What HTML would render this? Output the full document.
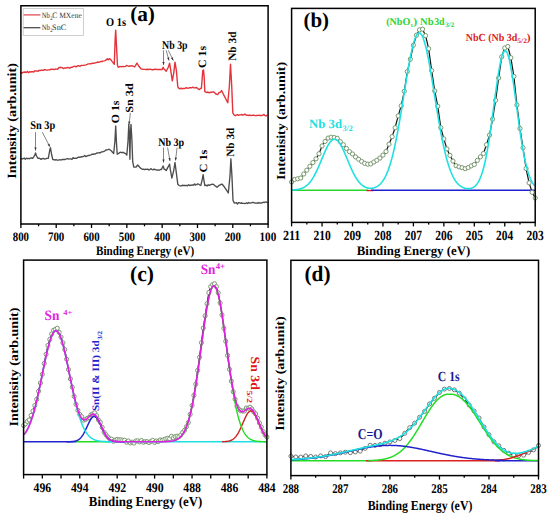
<!DOCTYPE html>
<html><head><meta charset="utf-8"><style>
html,body{margin:0;padding:0;background:#fff;}
body{width:550px;height:517px;overflow:hidden;}
svg{display:block;}
text{font-family:'Liberation Serif',serif;text-rendering:geometricPrecision;}
</style></head><body>
<svg width="550" height="517" viewBox="0 0 550 517">
<rect width="550" height="517" fill="#fff"/>
<polyline points="20.80,72.70 21.88,73.18 22.96,72.30 24.05,72.24 25.13,71.96 26.21,72.55 27.29,71.35 28.37,72.67 29.45,71.71 30.54,71.99 31.62,71.70 32.70,71.70 33.77,72.05 34.83,70.66 35.90,71.11 36.97,70.93 38.03,71.31 39.10,70.37 40.17,70.53 41.23,70.13 42.30,70.29 43.37,70.32 44.43,69.57 45.50,69.80 46.50,70.15 47.50,70.02 48.50,69.83 49.50,69.92 50.50,69.31 51.50,69.46 52.50,69.12 53.50,69.31 54.50,69.54 55.50,69.06 56.50,69.11 57.50,69.20 58.80,67.70 60.70,67.30 62.00,67.66 63.30,68.50 64.39,68.03 65.47,67.92 66.56,67.98 67.64,67.42 68.73,67.72 69.81,68.05 70.90,67.30 71.92,67.37 72.94,66.85 73.96,66.42 74.98,66.28 76.00,66.94 77.02,66.18 78.04,65.75 79.06,65.85 80.08,66.33 81.10,65.40 82.40,65.34 83.70,65.42 85.00,65.10 86.09,64.93 87.17,64.43 88.26,63.89 89.34,63.89 90.43,63.67 91.51,63.68 92.60,63.20 93.65,63.28 94.69,63.11 95.74,62.67 96.78,62.67 97.83,61.89 98.87,62.38 99.92,61.92 100.96,61.42 102.01,61.49 103.05,61.08 104.10,60.90 105.17,60.56 106.23,59.97 107.30,58.70 108.37,59.70 109.43,58.68 110.50,59.40 112.40,61.90 114.30,64.20 115.20,37.70 115.70,30.10 116.40,44.10 117.50,65.70 118.30,67.30 119.53,66.57 120.75,66.67 121.97,66.68 123.20,66.40 124.31,66.62 125.42,66.34 126.54,65.43 127.65,65.94 128.76,66.25 129.88,65.96 130.99,66.05 132.10,65.70 133.35,66.27 134.60,67.00 135.75,65.10 136.90,63.20 138.50,65.70 139.75,67.23 141.00,68.90 142.02,69.09 143.04,69.28 144.06,69.33 145.08,69.42 146.10,69.50 147.40,69.20 148.70,69.50 150.00,69.30 151.01,69.37 152.03,69.75 153.04,69.79 154.05,69.46 155.06,69.29 156.07,69.23 157.09,69.62 158.10,69.50 159.12,69.53 160.15,69.38 161.17,69.52 162.20,69.50 163.10,67.20 164.20,69.30 165.20,70.08 166.20,71.30 167.25,69.25 168.30,67.20 169.60,63.20 170.60,69.30 172.30,80.80 173.70,73.30 175.00,62.20 176.40,70.60 177.80,86.90 179.10,88.50 180.12,88.69 181.13,88.24 182.15,88.78 183.17,88.44 184.18,88.46 185.20,88.20 186.28,87.75 187.36,88.12 188.44,88.25 189.52,87.59 190.60,87.76 191.68,87.79 192.76,87.23 193.84,87.75 194.92,87.87 196.00,87.50 197.13,87.90 198.27,89.02 199.40,89.60 200.40,88.44 201.40,88.20 202.80,70.60 203.50,69.90 204.20,77.40 204.80,91.60 205.85,92.09 206.90,92.60 207.90,91.96 208.90,92.84 209.90,92.52 210.90,92.30 211.90,92.19 212.90,91.83 213.90,92.00 215.17,93.28 216.43,94.36 217.70,94.50 219.00,92.55 220.30,92.33 221.60,90.60 223.05,93.50 224.50,96.40 225.60,98.53 226.70,100.67 227.80,102.80 229.40,85.80 230.50,64.10 231.70,85.80 232.80,112.90 234.20,115.20 235.28,115.73 236.36,115.23 237.43,114.65 238.51,115.32 239.59,114.91 240.67,114.72 241.74,114.46 242.82,115.04 243.90,114.80 244.80,113.90 245.80,114.93 246.80,115.40 247.81,115.17 248.82,115.56 249.83,114.97 250.84,115.64 251.85,115.37 252.86,115.27 253.87,115.29 254.88,115.62 255.89,115.57 256.90,115.49 257.91,115.34 258.92,115.31 259.93,115.49 260.94,115.34 261.95,115.49 262.96,115.13 263.97,114.38 264.98,115.58 265.99,115.98 267.00,115.20" fill="none" stroke="#e3343b" stroke-width="1.4" stroke-linejoin="round" stroke-linecap="round" />
<polyline points="20.80,158.90 21.93,158.72 23.07,158.81 24.20,158.05 25.33,159.34 26.47,158.11 27.60,158.70 28.62,158.33 29.64,158.72 30.66,158.02 31.68,158.01 32.70,158.30 34.60,155.70 35.50,152.90 36.50,155.70 37.80,158.30 38.90,158.07 40.00,158.66 41.10,159.36 42.20,158.66 43.30,158.34 44.40,159.00 45.50,158.90 46.90,158.39 48.30,158.30 49.90,149.40 50.50,147.80 51.60,154.50 52.80,159.50 53.88,159.63 54.96,160.19 56.04,159.66 57.12,160.06 58.20,160.20 59.26,159.78 60.32,159.93 61.38,159.96 62.43,159.42 63.49,159.54 64.55,159.47 65.61,159.22 66.67,158.92 67.73,158.73 68.78,159.06 69.84,158.91 70.90,158.90 71.96,159.47 73.02,157.63 74.08,158.31 75.13,158.20 76.19,158.33 77.25,157.83 78.31,157.15 79.37,157.23 80.42,157.21 81.48,156.71 82.54,156.88 83.60,156.40 84.67,155.53 85.73,156.57 86.80,156.26 87.87,155.42 88.93,155.53 90.00,155.10 91.08,154.82 92.15,154.21 93.22,154.23 94.30,153.90 95.33,153.98 96.37,153.23 97.40,152.97 98.43,152.81 99.47,152.72 100.50,152.75 101.53,151.81 102.57,151.94 103.60,151.50 104.68,151.12 105.76,149.93 106.84,149.97 107.92,149.61 109.00,149.20 110.15,149.99 111.30,150.80 112.50,152.26 113.70,153.50 114.90,141.50 115.70,126.00 116.40,141.50 117.20,154.20 119.10,153.10 120.13,152.12 121.17,152.58 122.20,152.30 123.35,152.46 124.50,153.10 125.65,153.60 126.80,155.10 128.00,141.50 128.80,124.40 129.40,133.70 129.90,159.30 130.40,133.70 131.00,124.40 131.90,139.90 132.70,161.60 133.80,167.00 134.95,167.18 136.10,167.00 137.70,165.00 139.50,167.00 140.90,168.41 142.30,169.30 143.40,169.10 144.50,169.65 145.60,169.25 146.70,169.44 147.80,169.06 148.90,170.03 150.00,169.50 151.01,168.62 152.03,169.57 153.04,169.89 154.05,168.99 155.06,169.68 156.07,169.77 157.09,170.14 158.10,169.90 159.23,170.20 160.37,169.49 161.50,169.50 163.10,165.90 164.20,169.30 165.20,169.47 166.20,170.60 167.60,167.90 169.00,165.20 169.60,164.10 170.30,169.30 171.90,178.10 173.70,170.60 175.00,162.50 176.40,173.30 177.80,184.20 179.10,185.50 180.15,185.95 181.19,185.87 182.24,185.26 183.28,185.51 184.33,185.50 185.37,185.53 186.42,185.38 187.46,185.77 188.51,184.65 189.55,185.59 190.60,185.20 191.61,185.21 192.62,184.87 193.64,185.24 194.65,183.88 195.66,184.98 196.67,184.59 197.69,183.93 198.70,184.20 199.75,185.00 200.80,185.50 202.10,180.10 203.10,174.70 203.90,180.10 204.80,185.50 205.93,185.16 207.07,185.94 208.20,184.80 209.28,185.36 210.36,184.79 211.44,184.31 212.52,184.28 213.60,184.40 215.00,185.80 216.05,186.44 217.10,187.30 218.13,186.27 219.17,185.32 220.20,184.80 221.20,184.29 222.20,184.20 223.23,185.47 224.27,186.75 225.30,188.30 226.30,189.87 227.30,191.43 228.30,193.00 229.90,177.10 230.90,158.80 232.00,177.10 233.00,200.50 234.40,203.10 235.42,202.86 236.44,202.77 237.46,203.99 238.47,202.58 239.49,202.74 240.51,203.25 241.53,202.99 242.55,203.25 243.57,203.38 244.59,203.54 245.61,203.36 246.62,202.75 247.64,203.49 248.66,202.48 249.68,203.06 250.70,203.10 251.70,202.73 252.70,202.33 253.70,202.50 254.85,203.01 256.00,203.10 257.00,202.98 258.00,203.35 259.00,202.42 260.00,203.18 261.00,203.00 262.00,202.82 263.00,202.22 264.00,202.58 265.00,202.07 266.00,201.83 267.00,202.50" fill="none" stroke="#4d4d4d" stroke-width="1.35" stroke-linejoin="round" stroke-linecap="round" />
<rect x="23.2" y="8.6" width="60.2" height="26.9" fill="#fff" stroke="#c4c4c4" stroke-width="0.8"/>
<line x1="23.60" y1="14.90" x2="40.40" y2="14.90" stroke="#e05058" stroke-width="1.3" />
<line x1="23.60" y1="27.70" x2="40.40" y2="27.70" stroke="#505050" stroke-width="1.3" />
<text transform="translate(41.80,17.50) scale(0.8059,1)" font-size="8.20" font-weight="normal" fill="#333">Nb</text>
<text transform="translate(49.96,19.90) scale(1.0096,1)" font-size="5.20" font-weight="normal" fill="#333">2</text>
<text transform="translate(52.30,17.50) scale(0.9178,1)" font-size="8.20" font-weight="normal" fill="#333">C MXene</text>
<text transform="translate(41.80,29.70) scale(0.8059,1)" font-size="8.20" font-weight="normal" fill="#333">Nb</text>
<text transform="translate(49.96,31.90) scale(1.0096,1)" font-size="5.20" font-weight="normal" fill="#333">2</text>
<text transform="translate(52.06,29.70) scale(1.0061,1)" font-size="8.20" font-weight="normal" fill="#333">SnC</text>
<text transform="translate(130.14,21.10) scale(0.9952,1)" font-size="21.40" font-weight="bold" fill="#000">(a)</text>
<text transform="translate(105.98,25.50) scale(0.8819,1)" font-size="11.80" font-weight="bold" fill="#000">O 1s</text>
<text transform="translate(162.10,48.50) scale(0.8357,1)" font-size="11.80" font-weight="bold" fill="#000">Nb 3p</text>
<text transform="translate(206.00,67.99) rotate(-90) scale(1.0461,1)" font-size="11.30" font-weight="bold" fill="#000">C 1s</text>
<text transform="translate(236.00,60.83) rotate(-90) scale(1.0045,1)" font-size="11.30" font-weight="bold" fill="#000">Nb 3d</text>
<text transform="translate(30.33,129.20) scale(0.8730,1)" font-size="11.80" font-weight="bold" fill="#000">Sn 3p</text>
<text transform="translate(118.90,123.19) rotate(-90) scale(1.0692,1)" font-size="11.00" font-weight="bold" fill="#000">O 1s</text>
<text transform="translate(133.40,112.77) rotate(-90) scale(1.1064,1)" font-size="11.00" font-weight="bold" fill="#000">Sn 3d</text>
<text transform="translate(158.20,145.50) scale(0.8747,1)" font-size="11.50" font-weight="bold" fill="#000">Nb 3p</text>
<text transform="translate(206.60,172.62) rotate(-90) scale(1.1255,1)" font-size="11.00" font-weight="bold" fill="#000">C 1s</text>
<text transform="translate(233.80,156.83) rotate(-90) scale(1.0064,1)" font-size="11.20" font-weight="bold" fill="#000">Nb 3d</text>
<line x1="163.50" y1="50.30" x2="163.50" y2="65.00" stroke="#333" stroke-width="0.6" />
<polygon points="163.50,65.00 162.40,62.00 164.60,62.00" fill="#333"/>
<line x1="166.20" y1="50.30" x2="169.00" y2="60.50" stroke="#333" stroke-width="0.6" />
<polygon points="169.00,60.50 167.15,57.90 169.27,57.32" fill="#333"/>
<line x1="168.30" y1="50.30" x2="173.30" y2="60.50" stroke="#333" stroke-width="0.6" />
<polygon points="173.30,60.50 170.99,58.29 172.97,57.32" fill="#333"/>
<line x1="163.50" y1="147.60" x2="163.50" y2="162.50" stroke="#333" stroke-width="0.6" />
<polygon points="163.50,162.50 162.40,159.50 164.60,159.50" fill="#333"/>
<line x1="167.60" y1="147.60" x2="170.00" y2="161.10" stroke="#333" stroke-width="0.6" />
<polygon points="170.00,161.10 168.39,158.34 170.56,157.95" fill="#333"/>
<line x1="177.10" y1="147.60" x2="175.50" y2="160.50" stroke="#333" stroke-width="0.6" />
<polygon points="175.50,160.50 174.78,157.39 176.96,157.66" fill="#333"/>
<line x1="35.50" y1="132.20" x2="35.50" y2="150.60" stroke="#333" stroke-width="0.6" />
<polygon points="35.50,150.60 34.40,147.60 36.60,147.60" fill="#333"/>
<line x1="42.30" y1="132.20" x2="49.90" y2="146.80" stroke="#333" stroke-width="0.6" />
<polygon points="49.90,146.80 47.54,144.65 49.49,143.63" fill="#333"/>
<line x1="130.40" y1="112.90" x2="129.00" y2="124.50" stroke="#333" stroke-width="0.6" />
<polygon points="129.00,124.50 128.27,121.39 130.45,121.65" fill="#333"/>
<rect x="20.90" y="5.75" width="247.20" height="218.25" fill="none" stroke="#000" stroke-width="1.5"/>
<line x1="20.90" y1="224.00" x2="20.90" y2="228.00" stroke="#000" stroke-width="1.3" />
<text transform="translate(12.82,241.30) scale(0.8378,1)" font-size="12.90" font-weight="bold" fill="#000">800</text>
<line x1="38.56" y1="224.00" x2="38.56" y2="226.30" stroke="#000" stroke-width="1.3" />
<line x1="56.21" y1="224.00" x2="56.21" y2="228.00" stroke="#000" stroke-width="1.3" />
<text transform="translate(47.91,241.30) scale(0.8497,1)" font-size="12.90" font-weight="bold" fill="#000">700</text>
<line x1="73.87" y1="224.00" x2="73.87" y2="226.30" stroke="#000" stroke-width="1.3" />
<line x1="91.53" y1="224.00" x2="91.53" y2="228.00" stroke="#000" stroke-width="1.3" />
<text transform="translate(83.45,241.30) scale(0.8378,1)" font-size="12.90" font-weight="bold" fill="#000">600</text>
<line x1="109.19" y1="224.00" x2="109.19" y2="226.30" stroke="#000" stroke-width="1.3" />
<line x1="126.84" y1="224.00" x2="126.84" y2="228.00" stroke="#000" stroke-width="1.3" />
<text transform="translate(118.71,241.30) scale(0.8407,1)" font-size="12.90" font-weight="bold" fill="#000">500</text>
<line x1="144.50" y1="224.00" x2="144.50" y2="226.30" stroke="#000" stroke-width="1.3" />
<line x1="162.16" y1="224.00" x2="162.16" y2="228.00" stroke="#000" stroke-width="1.3" />
<text transform="translate(154.30,241.30) scale(0.8262,1)" font-size="12.90" font-weight="bold" fill="#000">400</text>
<line x1="179.81" y1="224.00" x2="179.81" y2="226.30" stroke="#000" stroke-width="1.3" />
<line x1="197.47" y1="224.00" x2="197.47" y2="228.00" stroke="#000" stroke-width="1.3" />
<text transform="translate(189.39,241.30) scale(0.8378,1)" font-size="12.90" font-weight="bold" fill="#000">300</text>
<line x1="215.13" y1="224.00" x2="215.13" y2="226.30" stroke="#000" stroke-width="1.3" />
<line x1="232.79" y1="224.00" x2="232.79" y2="228.00" stroke="#000" stroke-width="1.3" />
<text transform="translate(224.65,241.30) scale(0.8407,1)" font-size="12.90" font-weight="bold" fill="#000">200</text>
<line x1="250.44" y1="224.00" x2="250.44" y2="226.30" stroke="#000" stroke-width="1.3" />
<line x1="268.10" y1="224.00" x2="268.10" y2="228.00" stroke="#000" stroke-width="1.3" />
<text transform="translate(259.51,241.30) scale(0.8651,1)" font-size="12.90" font-weight="bold" fill="#000">100</text>
<text transform="translate(96.03,254.70) scale(0.8622,1)" font-size="12.90" font-weight="bold" fill="#000">Binding Energy (eV)</text>
<text transform="translate(15.50,178.70) rotate(-90) scale(1.1243,1)" font-size="12.60" font-weight="bold" fill="#000">Intensity (arb.unit)</text>
<line x1="291.60" y1="190.25" x2="368.00" y2="190.25" stroke="#2bd62b" stroke-width="1.5" />
<line x1="366.50" y1="190.55" x2="373.50" y2="190.55" stroke="#e02020" stroke-width="1.4" />
<line x1="371.00" y1="190.25" x2="535.20" y2="190.25" stroke="#2020d0" stroke-width="1.5" />
<polyline points="291.60,182.00 294.65,179.44 297.69,178.75 300.74,178.02 303.78,173.98 306.83,170.16 309.87,166.27 312.92,162.58 315.96,158.84 319.00,153.73 322.05,145.91 325.10,141.43 328.14,138.07 331.19,137.22 334.23,137.54 337.28,138.28 340.32,141.63 343.37,144.72 346.41,148.50 349.46,151.68 352.50,154.00 355.55,156.92 358.59,159.22 361.63,161.46 364.68,163.36 367.73,164.18 370.77,163.94 373.82,162.04 376.86,160.27 379.91,158.05 382.95,155.11 386.00,151.56 389.04,144.19 392.09,136.67 395.13,127.72 398.18,115.88 401.22,105.72 404.27,91.26 407.31,71.56 410.36,59.23 413.40,45.20 416.45,35.21 419.49,29.82 422.54,29.16 425.58,35.65 428.63,48.67 431.67,70.54 434.72,90.90 437.76,106.23 440.81,127.70 443.85,138.88 446.90,148.89 449.94,155.38 452.99,161.06 456.03,165.74 459.08,166.89 462.12,167.68 465.17,168.68 468.21,167.55 471.26,165.89 474.30,164.49 477.35,160.37 480.39,156.85 483.44,153.48 486.48,144.75 489.53,135.10 492.57,119.16 495.62,100.31 498.66,77.96 501.71,56.84 504.75,47.99 507.80,46.50 510.84,57.69 513.88,76.45 516.93,105.02 519.98,128.52 523.02,147.72 526.07,168.57 529.11,182.82 532.15,192.31 535.20,198.00" fill="none" stroke="#111" stroke-width="1.2" stroke-linejoin="round" stroke-linecap="round" />
<g fill="#fff" stroke="#7a9870" stroke-width="1.0"><circle cx="291.60" cy="182.00" r="2.1"/><circle cx="294.65" cy="179.44" r="2.1"/><circle cx="297.69" cy="178.75" r="2.1"/><circle cx="300.74" cy="178.02" r="2.1"/><circle cx="303.78" cy="173.98" r="2.1"/><circle cx="306.83" cy="170.16" r="2.1"/><circle cx="309.87" cy="166.27" r="2.1"/><circle cx="312.92" cy="162.58" r="2.1"/><circle cx="315.96" cy="158.84" r="2.1"/><circle cx="319.00" cy="153.73" r="2.1"/><circle cx="322.05" cy="145.91" r="2.1"/><circle cx="325.10" cy="141.43" r="2.1"/><circle cx="328.14" cy="138.07" r="2.1"/><circle cx="331.19" cy="137.22" r="2.1"/><circle cx="334.23" cy="137.54" r="2.1"/><circle cx="337.28" cy="138.28" r="2.1"/><circle cx="340.32" cy="141.63" r="2.1"/><circle cx="343.37" cy="144.72" r="2.1"/><circle cx="346.41" cy="148.50" r="2.1"/><circle cx="349.46" cy="151.68" r="2.1"/><circle cx="352.50" cy="154.00" r="2.1"/><circle cx="355.55" cy="156.92" r="2.1"/><circle cx="358.59" cy="159.22" r="2.1"/><circle cx="361.63" cy="161.46" r="2.1"/><circle cx="364.68" cy="163.36" r="2.1"/><circle cx="367.73" cy="164.18" r="2.1"/><circle cx="370.77" cy="163.94" r="2.1"/><circle cx="373.82" cy="162.04" r="2.1"/><circle cx="376.86" cy="160.27" r="2.1"/><circle cx="379.91" cy="158.05" r="2.1"/><circle cx="382.95" cy="155.11" r="2.1"/><circle cx="386.00" cy="151.56" r="2.1"/><circle cx="389.04" cy="144.19" r="2.1"/><circle cx="392.09" cy="136.67" r="2.1"/><circle cx="395.13" cy="127.72" r="2.1"/><circle cx="398.18" cy="115.88" r="2.1"/><circle cx="401.22" cy="105.72" r="2.1"/><circle cx="404.27" cy="91.26" r="2.1"/><circle cx="407.31" cy="71.56" r="2.1"/><circle cx="410.36" cy="59.23" r="2.1"/><circle cx="413.40" cy="45.20" r="2.1"/><circle cx="416.45" cy="35.21" r="2.1"/><circle cx="419.49" cy="29.82" r="2.1"/><circle cx="422.54" cy="29.16" r="2.1"/><circle cx="425.58" cy="35.65" r="2.1"/><circle cx="428.63" cy="48.67" r="2.1"/><circle cx="431.67" cy="70.54" r="2.1"/><circle cx="434.72" cy="90.90" r="2.1"/><circle cx="437.76" cy="106.23" r="2.1"/><circle cx="440.81" cy="127.70" r="2.1"/><circle cx="443.85" cy="138.88" r="2.1"/><circle cx="446.90" cy="148.89" r="2.1"/><circle cx="449.94" cy="155.38" r="2.1"/><circle cx="452.99" cy="161.06" r="2.1"/><circle cx="456.03" cy="165.74" r="2.1"/><circle cx="459.08" cy="166.89" r="2.1"/><circle cx="462.12" cy="167.68" r="2.1"/><circle cx="465.17" cy="168.68" r="2.1"/><circle cx="468.21" cy="167.55" r="2.1"/><circle cx="471.26" cy="165.89" r="2.1"/><circle cx="474.30" cy="164.49" r="2.1"/><circle cx="477.35" cy="160.37" r="2.1"/><circle cx="480.39" cy="156.85" r="2.1"/><circle cx="483.44" cy="153.48" r="2.1"/><circle cx="486.48" cy="144.75" r="2.1"/><circle cx="489.53" cy="135.10" r="2.1"/><circle cx="492.57" cy="119.16" r="2.1"/><circle cx="495.62" cy="100.31" r="2.1"/><circle cx="498.66" cy="77.96" r="2.1"/><circle cx="501.71" cy="56.84" r="2.1"/><circle cx="504.75" cy="47.99" r="2.1"/><circle cx="507.80" cy="46.50" r="2.1"/><circle cx="510.84" cy="57.69" r="2.1"/><circle cx="513.88" cy="76.45" r="2.1"/><circle cx="516.93" cy="105.02" r="2.1"/><circle cx="519.98" cy="128.52" r="2.1"/><circle cx="523.02" cy="147.72" r="2.1"/><circle cx="526.07" cy="168.57" r="2.1"/><circle cx="529.11" cy="182.82" r="2.1"/><circle cx="532.15" cy="192.31" r="2.1"/><circle cx="535.20" cy="198.00" r="2.1"/></g>
<path d="M292.10,190.04 L292.51,190.02 L292.91,189.99 L293.32,189.96 L293.72,189.93 L294.13,189.90 L294.53,189.86 L294.94,189.82 L295.34,189.78 L295.75,189.73 L296.15,189.68 L296.56,189.62 L296.96,189.56 L297.37,189.49 L297.77,189.42 L298.18,189.34 L298.58,189.26 L298.99,189.16 L299.39,189.06 L299.80,188.96 L300.20,188.84 L300.61,188.72 L301.01,188.59 L301.42,188.44 L301.82,188.29 L302.23,188.13 L302.63,187.95 L303.04,187.76 L303.44,187.56 L303.85,187.35 L304.25,187.13 L304.66,186.88 L305.06,186.63 L305.47,186.36 L305.87,186.07 L306.28,185.77 L306.68,185.44 L307.09,185.10 L307.49,184.75 L307.90,184.37 L308.30,183.97 L308.71,183.56 L309.11,183.12 L309.52,182.66 L309.92,182.18 L310.33,181.68 L310.73,181.16 L311.14,180.61 L311.54,180.04 L311.95,179.45 L312.35,178.84 L312.76,178.20 L313.16,177.54 L313.57,176.86 L313.97,176.16 L314.38,175.43 L314.78,174.68 L315.19,173.91 L315.59,173.12 L316.00,172.31 L316.40,171.48 L316.81,170.63 L317.21,169.77 L317.62,168.88 L318.02,167.98 L318.43,167.07 L318.83,166.14 L319.24,165.20 L319.64,164.25 L320.05,163.29 L320.45,162.33 L320.86,161.35 L321.26,160.38 L321.67,159.40 L322.07,158.42 L322.48,157.44 L322.88,156.47 L323.29,155.51 L323.69,154.55 L324.10,153.60 L324.50,152.66 L324.91,151.74 L325.31,150.84 L325.72,149.95 L326.12,149.09 L326.53,148.25 L326.93,147.43 L327.34,146.64 L327.74,145.89 L328.15,145.16 L328.55,144.47 L328.96,143.82 L329.36,143.20 L329.77,142.62 L330.17,142.09 L330.58,141.59 L330.98,141.14 L331.39,140.74 L331.79,140.38 L332.20,140.07 L332.60,139.81 L333.01,139.60 L333.41,139.43 L333.82,139.32 L334.22,139.26 L334.63,139.25 L335.03,139.29 L335.44,139.39 L335.84,139.53 L336.25,139.72 L336.65,139.96 L337.06,140.26 L337.46,140.60 L337.87,140.98 L338.27,141.42 L338.68,141.89 L339.08,142.41 L339.49,142.98 L339.89,143.58 L340.30,144.22 L340.70,144.90 L341.11,145.61 L341.51,146.35 L341.92,147.13 L342.32,147.93 L342.73,148.76 L343.13,149.62 L343.54,150.50 L343.94,151.40 L344.35,152.31 L344.75,153.24 L345.16,154.18 L345.56,155.14 L345.97,156.10 L346.37,157.07 L346.78,158.05 L347.18,159.03 L347.59,160.01 L347.99,160.98 L348.40,161.96 L348.80,162.92 L349.21,163.89 L349.61,164.84 L350.02,165.78 L350.42,166.71 L350.83,167.63 L351.23,168.54 L351.64,169.43 L352.04,170.30 L352.45,171.15 L352.85,171.99 L353.26,172.80 L353.66,173.60 L354.07,174.38 L354.47,175.13 L354.88,175.86 L355.28,176.57 L355.69,177.26 L356.09,177.92 L356.50,178.57 L356.90,179.18 L357.31,179.78 L357.71,180.35 L358.12,180.90 L358.52,181.42 L358.93,181.93 L359.33,182.41 L359.74,182.86 L360.14,183.30 L360.55,183.72 L360.95,184.11 L361.36,184.48 L361.76,184.83 L362.17,185.17 L362.57,185.48 L362.98,185.77 L363.38,186.05 L363.79,186.30 L364.19,186.54 L364.60,186.77 L365.00,186.97 L365.41,187.16 L365.81,187.33 L366.22,187.49 L366.62,187.63 L367.03,187.76 L367.43,187.87 L367.84,187.97 L368.24,188.06 L368.65,188.13 L369.05,188.18 L369.46,188.23 L369.86,188.26 L370.27,188.28 L370.67,188.28 L371.08,188.27 L371.48,188.25 L371.89,188.21 L372.29,188.17 L372.70,188.10 L373.10,188.03 L373.51,187.94 L373.91,187.84 L374.32,187.72 L374.72,187.58 L375.13,187.44 L375.53,187.27 L375.94,187.09 L376.34,186.90 L376.75,186.68 L377.15,186.45 L377.56,186.20 L377.96,185.93 L378.37,185.64 L378.77,185.33 L379.18,185.00 L379.58,184.64 L379.99,184.26 L380.39,183.86 L380.80,183.44 L381.20,182.98 L381.61,182.50 L382.01,182.00 L382.42,181.46 L382.82,180.89 L383.23,180.30 L383.63,179.67 L384.04,179.01 L384.44,178.31 L384.85,177.58 L385.25,176.81 L385.66,176.01 L386.06,175.17 L386.47,174.28 L386.87,173.36 L387.28,172.40 L387.68,171.39 L388.09,170.35 L388.49,169.25 L388.90,168.12 L389.30,166.94 L389.71,165.71 L390.11,164.43 L390.52,163.11 L390.92,161.74 L391.33,160.32 L391.73,158.85 L392.14,157.34 L392.54,155.77 L392.95,154.16 L393.35,152.49 L393.76,150.78 L394.16,149.02 L394.57,147.21 L394.97,145.35 L395.38,143.45 L395.78,141.49 L396.19,139.50 L396.59,137.45 L397.00,135.37 L397.40,133.24 L397.81,131.07 L398.21,128.86 L398.62,126.61 L399.02,124.32 L399.43,122.01 L399.83,119.66 L400.24,117.28 L400.64,114.87 L401.05,112.44 L401.45,109.98 L401.86,107.51 L402.26,105.02 L402.67,102.51 L403.07,100.00 L403.48,97.48 L403.88,94.95 L404.29,92.43 L404.69,89.91 L405.10,87.39 L405.50,84.89 L405.91,82.40 L406.31,79.93 L406.72,77.48 L407.12,75.06 L407.53,72.67 L407.93,70.31 L408.34,67.99 L408.74,65.72 L409.15,63.49 L409.55,61.31 L409.96,59.19 L410.36,57.12 L410.77,55.12 L411.17,53.18 L411.58,51.31 L411.98,49.51 L412.39,47.80 L412.79,46.16 L413.20,44.60 L413.60,43.13 L414.01,41.75 L414.41,40.47 L414.82,39.27 L415.22,38.18 L415.63,37.18 L416.03,36.28 L416.44,35.49 L416.84,34.81 L417.25,34.23 L417.65,33.75 L418.06,33.39 L418.46,33.13 L418.87,32.99 L419.27,32.95 L419.68,33.03 L420.08,33.21 L420.49,33.51 L420.89,33.91 L421.30,34.42 L421.70,35.04 L422.11,35.77 L422.51,36.59 L422.92,37.53 L423.32,38.56 L423.73,39.69 L424.13,40.92 L424.54,42.24 L424.94,43.65 L425.35,45.15 L425.75,46.73 L426.16,48.40 L426.56,50.15 L426.97,51.97 L427.37,53.86 L427.78,55.83 L428.18,57.85 L428.59,59.94 L428.99,62.08 L429.40,64.28 L429.80,66.53 L430.21,68.82 L430.61,71.15 L431.02,73.52 L431.42,75.92 L431.83,78.36 L432.23,80.81 L432.64,83.29 L433.04,85.78 L433.45,88.29 L433.85,90.81 L434.26,93.33 L434.66,95.86 L435.07,98.38 L435.47,100.90 L435.88,103.41 L436.28,105.91 L436.69,108.40 L437.09,110.86 L437.50,113.31 L437.90,115.73 L438.31,118.13 L438.71,120.50 L439.12,122.84 L439.52,125.15 L439.93,127.42 L440.33,129.65 L440.74,131.85 L441.14,134.01 L441.55,136.12 L441.95,138.19 L442.36,140.22 L442.76,142.20 L443.17,144.14 L443.57,146.02 L443.98,147.87 L444.38,149.66 L444.79,151.40 L445.19,153.10 L445.60,154.74 L446.00,156.34 L446.41,157.89 L446.81,159.39 L447.22,160.84 L447.62,162.24 L448.03,163.59 L448.43,164.90 L448.84,166.16 L449.24,167.37 L449.65,168.54 L450.05,169.66 L450.46,170.73 L450.86,171.77 L451.27,172.76 L451.67,173.71 L452.08,174.62 L452.48,175.49 L452.89,176.32 L453.29,177.11 L453.70,177.87 L454.10,178.59 L454.51,179.27 L454.91,179.92 L455.32,180.55 L455.72,181.13 L456.13,181.69 L456.53,182.22 L456.94,182.73 L457.34,183.20 L457.75,183.65 L458.15,184.07 L458.56,184.47 L458.96,184.85 L459.37,185.20 L459.77,185.53 L460.18,185.84 L460.58,186.14 L460.99,186.41 L461.39,186.66 L461.80,186.90 L462.20,187.12 L462.61,187.32 L463.01,187.51 L463.42,187.68 L463.82,187.84 L464.23,187.99 L464.63,188.11 L465.04,188.23 L465.44,188.33 L465.85,188.42 L466.25,188.49 L466.66,188.55 L467.06,188.60 L467.47,188.64 L467.87,188.66 L468.28,188.66 L468.68,188.65 L469.09,188.63 L469.49,188.59 L469.90,188.54 L470.30,188.47 L470.71,188.38 L471.11,188.28 L471.52,188.15 L471.92,188.01 L472.33,187.84 L472.73,187.66 L473.14,187.44 L473.54,187.21 L473.95,186.94 L474.35,186.65 L474.76,186.33 L475.16,185.98 L475.57,185.59 L475.97,185.17 L476.38,184.71 L476.78,184.21 L477.19,183.67 L477.59,183.09 L478.00,182.46 L478.40,181.78 L478.81,181.05 L479.21,180.27 L479.62,179.43 L480.02,178.53 L480.43,177.58 L480.83,176.56 L481.24,175.48 L481.64,174.33 L482.05,173.11 L482.45,171.82 L482.86,170.46 L483.26,169.03 L483.67,167.52 L484.07,165.93 L484.48,164.27 L484.88,162.52 L485.29,160.70 L485.69,158.79 L486.10,156.81 L486.50,154.75 L486.91,152.60 L487.31,150.38 L487.72,148.08 L488.12,145.71 L488.53,143.26 L488.93,140.74 L489.34,138.16 L489.74,135.50 L490.15,132.79 L490.55,130.02 L490.96,127.20 L491.36,124.33 L491.77,121.41 L492.17,118.46 L492.58,115.48 L492.98,112.48 L493.39,109.46 L493.79,106.43 L494.20,103.40 L494.60,100.37 L495.01,97.36 L495.41,94.37 L495.82,91.41 L496.22,88.49 L496.63,85.62 L497.03,82.81 L497.44,80.06 L497.84,77.38 L498.25,74.79 L498.65,72.30 L499.06,69.90 L499.46,67.61 L499.87,65.44 L500.27,63.39 L500.68,61.48 L501.08,59.70 L501.49,58.07 L501.89,56.59 L502.30,55.27 L502.70,54.11 L503.11,53.12 L503.51,52.29 L503.92,51.64 L504.32,51.17 L504.73,50.87 L505.13,50.75 L505.54,50.81 L505.94,51.05 L506.35,51.47 L506.75,52.06 L507.16,52.83 L507.56,53.77 L507.97,54.88 L508.37,56.15 L508.78,57.58 L509.18,59.16 L509.59,60.89 L509.99,62.76 L510.40,64.76 L510.80,66.89 L511.21,69.15 L511.61,71.51 L512.02,73.97 L512.42,76.54 L512.83,79.18 L513.23,81.91 L513.64,84.70 L514.04,87.56 L514.45,90.46 L514.85,93.41 L515.26,96.39 L515.66,99.40 L516.07,102.42 L516.47,105.45 L516.88,108.48 L517.28,111.50 L517.69,114.51 L518.09,117.50 L518.50,120.46 L518.90,123.39 L519.31,126.27 L519.71,129.11 L520.12,131.90 L520.52,134.63 L520.93,137.31 L521.33,139.92 L521.74,142.46 L522.14,144.93 L522.55,147.33 L522.95,149.65 L523.36,151.90 L523.76,154.07 L524.17,156.16 L524.57,158.17 L524.98,160.10 L525.38,161.95 L525.79,163.73 L526.19,165.42 L526.60,167.03 L527.00,168.57 L527.41,170.03 L527.81,171.42 L528.22,172.73 L528.62,173.98 L529.03,175.15 L529.43,176.26 L529.84,177.30 L530.24,178.29 L530.65,179.21 L531.05,180.07 L531.46,180.88 L531.86,181.63 L532.27,182.34 L532.67,182.99 L533.08,183.60 L533.48,184.17 L533.89,184.69 L534.29,185.18 L534.70,185.63" fill="none" stroke="#1fe0e0" stroke-width="1.6" stroke-linejoin="round" />
<text transform="translate(303.46,26.50) scale(0.9985,1)" font-size="21.00" font-weight="bold" fill="#000">(b)</text>
<text transform="translate(386.15,24.90) scale(0.9628,1)" font-size="10.50" font-weight="bold" fill="#2dd42d">(NbO</text>
<text transform="translate(410.78,27.00) scale(0.6279,1)" font-size="6.50" font-weight="bold" fill="#2dd42d">x</text>
<text transform="translate(413.34,24.90) scale(1.1355,1)" font-size="10.50" font-weight="bold" fill="#2dd42d">)</text>
<text transform="translate(420.09,24.90) scale(1.0112,1)" font-size="10.50" font-weight="bold" fill="#2dd42d">Nb</text>
<text transform="translate(434.15,24.90) scale(0.9430,1)" font-size="10.50" font-weight="bold" fill="#2dd42d">3d</text>
<text transform="translate(445.15,27.40) scale(1.0417,1)" font-size="6.80" font-weight="bold" fill="#2dd42d">3/2</text>
<text transform="translate(465.70,41.00) scale(0.9250,1)" font-size="10.80" font-weight="bold" fill="#dc1c1c">NbC (Nb 3d</text>
<text transform="translate(517.30,43.40) scale(1.1076,1)" font-size="6.80" font-weight="bold" fill="#dc1c1c">5/2</text>
<text transform="translate(526.65,41.00) scale(1.0684,1)" font-size="10.80" font-weight="bold" fill="#dc1c1c">)</text>
<text transform="translate(309.04,127.60) scale(1.0126,1)" font-size="12.60" font-weight="bold" fill="#1fe0e0">Nb 3d</text>
<text transform="translate(342.52,130.90) scale(0.9858,1)" font-size="8.20" font-weight="bold" fill="#1fe0e0">3/2</text>
<rect x="291.60" y="8.40" width="243.60" height="214.00" fill="none" stroke="#000" stroke-width="1.5"/>
<line x1="291.60" y1="222.40" x2="291.60" y2="226.40" stroke="#000" stroke-width="1.3" />
<text transform="translate(282.92,239.80) scale(0.8645,1)" font-size="14.00" font-weight="bold" fill="#000">211</text>
<line x1="306.83" y1="222.40" x2="306.83" y2="224.60" stroke="#000" stroke-width="1.3" />
<line x1="322.05" y1="222.40" x2="322.05" y2="226.40" stroke="#000" stroke-width="1.3" />
<text transform="translate(313.39,239.80) scale(0.8249,1)" font-size="14.00" font-weight="bold" fill="#000">210</text>
<line x1="337.28" y1="222.40" x2="337.28" y2="224.60" stroke="#000" stroke-width="1.3" />
<line x1="352.50" y1="222.40" x2="352.50" y2="226.40" stroke="#000" stroke-width="1.3" />
<text transform="translate(343.84,239.80) scale(0.8221,1)" font-size="14.00" font-weight="bold" fill="#000">209</text>
<line x1="367.73" y1="222.40" x2="367.73" y2="224.60" stroke="#000" stroke-width="1.3" />
<line x1="382.95" y1="222.40" x2="382.95" y2="226.40" stroke="#000" stroke-width="1.3" />
<text transform="translate(374.29,239.80) scale(0.8221,1)" font-size="14.00" font-weight="bold" fill="#000">208</text>
<line x1="398.18" y1="222.40" x2="398.18" y2="224.60" stroke="#000" stroke-width="1.3" />
<line x1="413.40" y1="222.40" x2="413.40" y2="226.40" stroke="#000" stroke-width="1.3" />
<text transform="translate(404.74,239.80) scale(0.8163,1)" font-size="14.00" font-weight="bold" fill="#000">207</text>
<line x1="428.62" y1="222.40" x2="428.62" y2="224.60" stroke="#000" stroke-width="1.3" />
<line x1="443.85" y1="222.40" x2="443.85" y2="226.40" stroke="#000" stroke-width="1.3" />
<text transform="translate(435.19,239.80) scale(0.8192,1)" font-size="14.00" font-weight="bold" fill="#000">206</text>
<line x1="459.08" y1="222.40" x2="459.08" y2="224.60" stroke="#000" stroke-width="1.3" />
<line x1="474.30" y1="222.40" x2="474.30" y2="226.40" stroke="#000" stroke-width="1.3" />
<text transform="translate(465.64,239.80) scale(0.8221,1)" font-size="14.00" font-weight="bold" fill="#000">205</text>
<line x1="489.53" y1="222.40" x2="489.53" y2="224.60" stroke="#000" stroke-width="1.3" />
<line x1="504.75" y1="222.40" x2="504.75" y2="226.40" stroke="#000" stroke-width="1.3" />
<text transform="translate(496.09,239.80) scale(0.8135,1)" font-size="14.00" font-weight="bold" fill="#000">204</text>
<line x1="519.98" y1="222.40" x2="519.98" y2="224.60" stroke="#000" stroke-width="1.3" />
<line x1="535.20" y1="222.40" x2="535.20" y2="226.40" stroke="#000" stroke-width="1.3" />
<text transform="translate(526.54,239.80) scale(0.8221,1)" font-size="14.00" font-weight="bold" fill="#000">203</text>
<text transform="translate(356.81,254.50) scale(0.9804,1)" font-size="13.10" font-weight="bold" fill="#000">Binding Energy (eV)</text>
<text transform="translate(284.60,180.09) rotate(-90) scale(1.1484,1)" font-size="12.20" font-weight="bold" fill="#000">Intenisity (arb.unit)</text>
<polyline points="23.60,425.46 25.47,423.85 27.34,421.46 29.21,419.92 31.09,415.34 32.96,411.07 34.83,405.48 36.70,399.30 38.57,391.21 40.44,382.94 42.32,374.35 44.19,363.46 46.06,354.37 47.93,345.41 49.80,339.36 51.67,334.04 53.54,330.37 55.42,329.41 57.29,328.17 59.16,332.33 61.03,337.10 62.90,342.88 64.77,349.55 66.65,359.27 68.52,369.56 70.39,378.88 72.26,387.19 74.13,396.34 76.00,404.37 77.87,410.30 79.75,414.40 81.62,416.62 83.49,420.23 85.36,419.59 87.23,418.35 89.10,417.55 90.98,414.73 92.85,413.89 94.72,412.82 96.59,415.63 98.46,419.89 100.33,422.35 102.20,427.32 104.08,432.24 105.95,434.69 107.82,437.08 109.69,438.84 111.56,439.12 113.43,441.20 115.31,440.08 117.18,439.40 119.05,439.76 120.92,439.87 122.79,440.17 124.66,440.18 126.53,442.21 128.41,440.98 130.28,442.96 132.15,442.13 134.02,443.07 135.89,441.01 137.76,440.81 139.64,441.89 141.51,440.51 143.38,442.22 145.25,441.64 147.12,441.64 148.99,442.49 150.86,441.43 152.74,440.37 154.61,442.40 156.48,440.97 158.35,441.55 160.22,439.91 162.09,440.35 163.97,439.58 165.84,438.82 167.71,438.27 169.58,438.69 171.45,436.20 173.32,437.85 175.19,436.59 177.07,436.15 178.94,436.68 180.81,434.92 182.68,432.31 184.55,430.20 186.42,426.67 188.30,422.59 190.17,414.27 192.04,405.49 193.91,395.36 195.78,384.11 197.65,370.33 199.52,357.22 201.40,342.67 203.27,328.03 205.14,315.84 207.01,303.72 208.88,292.47 210.75,286.63 212.63,284.63 214.50,283.71 216.37,286.63 218.24,292.77 220.11,302.93 221.98,315.03 223.85,328.31 225.73,341.26 227.60,355.45 229.47,369.35 231.34,381.20 233.21,391.72 235.08,399.22 236.96,406.26 238.83,409.23 240.70,410.70 242.57,411.03 244.44,410.94 246.31,407.99 248.18,408.27 250.06,407.21 251.93,408.98 253.80,411.93 255.67,413.97 257.54,418.14 259.41,422.92 261.29,427.08 263.16,431.66 265.03,434.98 266.90,437.08" fill="none" stroke="#111" stroke-width="1.2" stroke-linejoin="round" stroke-linecap="round" />
<g fill="#fff" stroke="#7a9870" stroke-width="1.0"><circle cx="23.60" cy="425.46" r="2.05"/><circle cx="25.47" cy="423.85" r="2.05"/><circle cx="27.34" cy="421.46" r="2.05"/><circle cx="29.21" cy="419.92" r="2.05"/><circle cx="31.09" cy="415.34" r="2.05"/><circle cx="32.96" cy="411.07" r="2.05"/><circle cx="34.83" cy="405.48" r="2.05"/><circle cx="36.70" cy="399.30" r="2.05"/><circle cx="38.57" cy="391.21" r="2.05"/><circle cx="40.44" cy="382.94" r="2.05"/><circle cx="42.32" cy="374.35" r="2.05"/><circle cx="44.19" cy="363.46" r="2.05"/><circle cx="46.06" cy="354.37" r="2.05"/><circle cx="47.93" cy="345.41" r="2.05"/><circle cx="49.80" cy="339.36" r="2.05"/><circle cx="51.67" cy="334.04" r="2.05"/><circle cx="53.54" cy="330.37" r="2.05"/><circle cx="55.42" cy="329.41" r="2.05"/><circle cx="57.29" cy="328.17" r="2.05"/><circle cx="59.16" cy="332.33" r="2.05"/><circle cx="61.03" cy="337.10" r="2.05"/><circle cx="62.90" cy="342.88" r="2.05"/><circle cx="64.77" cy="349.55" r="2.05"/><circle cx="66.65" cy="359.27" r="2.05"/><circle cx="68.52" cy="369.56" r="2.05"/><circle cx="70.39" cy="378.88" r="2.05"/><circle cx="72.26" cy="387.19" r="2.05"/><circle cx="74.13" cy="396.34" r="2.05"/><circle cx="76.00" cy="404.37" r="2.05"/><circle cx="77.87" cy="410.30" r="2.05"/><circle cx="79.75" cy="414.40" r="2.05"/><circle cx="81.62" cy="416.62" r="2.05"/><circle cx="83.49" cy="420.23" r="2.05"/><circle cx="85.36" cy="419.59" r="2.05"/><circle cx="87.23" cy="418.35" r="2.05"/><circle cx="89.10" cy="417.55" r="2.05"/><circle cx="90.98" cy="414.73" r="2.05"/><circle cx="92.85" cy="413.89" r="2.05"/><circle cx="94.72" cy="412.82" r="2.05"/><circle cx="96.59" cy="415.63" r="2.05"/><circle cx="98.46" cy="419.89" r="2.05"/><circle cx="100.33" cy="422.35" r="2.05"/><circle cx="102.20" cy="427.32" r="2.05"/><circle cx="104.08" cy="432.24" r="2.05"/><circle cx="105.95" cy="434.69" r="2.05"/><circle cx="107.82" cy="437.08" r="2.05"/><circle cx="109.69" cy="438.84" r="2.05"/><circle cx="111.56" cy="439.12" r="2.05"/><circle cx="113.43" cy="441.20" r="2.05"/><circle cx="115.31" cy="440.08" r="2.05"/><circle cx="117.18" cy="439.40" r="2.05"/><circle cx="119.05" cy="439.76" r="2.05"/><circle cx="120.92" cy="439.87" r="2.05"/><circle cx="122.79" cy="440.17" r="2.05"/><circle cx="124.66" cy="440.18" r="2.05"/><circle cx="126.53" cy="442.21" r="2.05"/><circle cx="128.41" cy="440.98" r="2.05"/><circle cx="130.28" cy="442.96" r="2.05"/><circle cx="132.15" cy="442.13" r="2.05"/><circle cx="134.02" cy="443.07" r="2.05"/><circle cx="135.89" cy="441.01" r="2.05"/><circle cx="137.76" cy="440.81" r="2.05"/><circle cx="139.64" cy="441.89" r="2.05"/><circle cx="141.51" cy="440.51" r="2.05"/><circle cx="143.38" cy="442.22" r="2.05"/><circle cx="145.25" cy="441.64" r="2.05"/><circle cx="147.12" cy="441.64" r="2.05"/><circle cx="148.99" cy="442.49" r="2.05"/><circle cx="150.86" cy="441.43" r="2.05"/><circle cx="152.74" cy="440.37" r="2.05"/><circle cx="154.61" cy="442.40" r="2.05"/><circle cx="156.48" cy="440.97" r="2.05"/><circle cx="158.35" cy="441.55" r="2.05"/><circle cx="160.22" cy="439.91" r="2.05"/><circle cx="162.09" cy="440.35" r="2.05"/><circle cx="163.97" cy="439.58" r="2.05"/><circle cx="165.84" cy="438.82" r="2.05"/><circle cx="167.71" cy="438.27" r="2.05"/><circle cx="169.58" cy="438.69" r="2.05"/><circle cx="171.45" cy="436.20" r="2.05"/><circle cx="173.32" cy="437.85" r="2.05"/><circle cx="175.19" cy="436.59" r="2.05"/><circle cx="177.07" cy="436.15" r="2.05"/><circle cx="178.94" cy="436.68" r="2.05"/><circle cx="180.81" cy="434.92" r="2.05"/><circle cx="182.68" cy="432.31" r="2.05"/><circle cx="184.55" cy="430.20" r="2.05"/><circle cx="186.42" cy="426.67" r="2.05"/><circle cx="188.30" cy="422.59" r="2.05"/><circle cx="190.17" cy="414.27" r="2.05"/><circle cx="192.04" cy="405.49" r="2.05"/><circle cx="193.91" cy="395.36" r="2.05"/><circle cx="195.78" cy="384.11" r="2.05"/><circle cx="197.65" cy="370.33" r="2.05"/><circle cx="199.52" cy="357.22" r="2.05"/><circle cx="201.40" cy="342.67" r="2.05"/><circle cx="203.27" cy="328.03" r="2.05"/><circle cx="205.14" cy="315.84" r="2.05"/><circle cx="207.01" cy="303.72" r="2.05"/><circle cx="208.88" cy="292.47" r="2.05"/><circle cx="210.75" cy="286.63" r="2.05"/><circle cx="212.63" cy="284.63" r="2.05"/><circle cx="214.50" cy="283.71" r="2.05"/><circle cx="216.37" cy="286.63" r="2.05"/><circle cx="218.24" cy="292.77" r="2.05"/><circle cx="220.11" cy="302.93" r="2.05"/><circle cx="221.98" cy="315.03" r="2.05"/><circle cx="223.85" cy="328.31" r="2.05"/><circle cx="225.73" cy="341.26" r="2.05"/><circle cx="227.60" cy="355.45" r="2.05"/><circle cx="229.47" cy="369.35" r="2.05"/><circle cx="231.34" cy="381.20" r="2.05"/><circle cx="233.21" cy="391.72" r="2.05"/><circle cx="235.08" cy="399.22" r="2.05"/><circle cx="236.96" cy="406.26" r="2.05"/><circle cx="238.83" cy="409.23" r="2.05"/><circle cx="240.70" cy="410.70" r="2.05"/><circle cx="242.57" cy="411.03" r="2.05"/><circle cx="244.44" cy="410.94" r="2.05"/><circle cx="246.31" cy="407.99" r="2.05"/><circle cx="248.18" cy="408.27" r="2.05"/><circle cx="250.06" cy="407.21" r="2.05"/><circle cx="251.93" cy="408.98" r="2.05"/><circle cx="253.80" cy="411.93" r="2.05"/><circle cx="255.67" cy="413.97" r="2.05"/><circle cx="257.54" cy="418.14" r="2.05"/><circle cx="259.41" cy="422.92" r="2.05"/><circle cx="261.29" cy="427.08" r="2.05"/><circle cx="263.16" cy="431.66" r="2.05"/><circle cx="265.03" cy="434.98" r="2.05"/><circle cx="266.90" cy="437.08" r="2.05"/></g>
<line x1="23.60" y1="441.75" x2="76.00" y2="441.75" stroke="#2323cc" stroke-width="1.5" />
<line x1="76.00" y1="441.75" x2="110.00" y2="441.75" stroke="#22dd22" stroke-width="1.5" />
<line x1="108.00" y1="441.75" x2="266.90" y2="441.75" stroke="#1fe0e0" stroke-width="1.5" />
<path d="M222.12,441.70 L222.43,441.70 L222.73,441.69 L223.03,441.68 L223.34,441.67 L223.64,441.66 L223.94,441.64 L224.25,441.63 L224.55,441.61 L224.85,441.60 L225.16,441.58 L225.46,441.55 L225.76,441.53 L226.07,441.50 L226.37,441.47 L226.67,441.44 L226.98,441.40 L227.28,441.36 L227.58,441.31 L227.89,441.26 L228.19,441.20 L228.49,441.14 L228.80,441.07 L229.10,441.00 L229.40,440.92 L229.71,440.83 L230.01,440.73 L230.31,440.63 L230.62,440.51 L230.92,440.39 L231.22,440.25 L231.53,440.11 L231.83,439.95 L232.13,439.78 L232.44,439.60 L232.74,439.41 L233.04,439.20 L233.35,438.98 L233.65,438.74 L233.95,438.48 L234.26,438.21 L234.56,437.93 L234.86,437.62 L235.16,437.30 L235.47,436.96 L235.77,436.60 L236.07,436.22 L236.38,435.82 L236.68,435.40 L236.98,434.97 L237.29,434.51 L237.59,434.03 L237.89,433.53 L238.20,433.02 L238.50,432.48 L238.80,431.93 L239.11,431.36 L239.41,430.77 L239.71,430.16 L240.02,429.54 L240.32,428.90 L240.62,428.25 L240.93,427.59 L241.23,426.92 L241.53,426.23 L241.84,425.54 L242.14,424.84 L242.44,424.14 L242.75,423.43 L243.05,422.72 L243.35,422.01 L243.66,421.31 L243.96,420.61 L244.26,419.92 L244.57,419.24 L244.87,418.57 L245.17,417.91 L245.48,417.28 L245.78,416.66 L246.08,416.06 L246.39,415.48 L246.69,414.94 L246.99,414.41 L247.29,413.92 L247.60,413.46 L247.90,413.04 L248.20,412.65 L248.51,412.30 L248.81,411.98 L249.11,411.71 L249.42,411.47 L249.72,411.28 L250.02,411.13 L250.33,411.03 L250.63,410.97 L250.93,410.95 L251.24,410.98 L251.54,411.05 L251.84,411.16 L252.15,411.32 L252.45,411.52 L252.75,411.77 L253.06,412.05 L253.36,412.37 L253.66,412.73 L253.97,413.13 L254.27,413.56 L254.57,414.03 L254.88,414.53 L255.18,415.06 L255.48,415.61 L255.79,416.19 L256.09,416.79 L256.39,417.42 L256.70,418.06 L257.00,418.72 L257.30,419.39 L257.61,420.07 L257.91,420.77 L258.21,421.47 L258.52,422.17 L258.82,422.88 L259.12,423.59 L259.43,424.29 L259.73,425.00 L260.03,425.69 L260.33,426.39 L260.64,427.07 L260.94,427.74 L261.24,428.40 L261.55,429.05 L261.85,429.68 L262.15,430.30 L262.46,430.90 L262.76,431.49 L263.06,432.06 L263.37,432.61 L263.67,433.14 L263.97,433.65 L264.28,434.14 L264.58,434.61 L264.88,435.07 L265.19,435.50 L265.49,435.91 L265.79,436.31 L266.10,436.68 L266.40,437.04" fill="none" stroke="#d41e1e" stroke-width="1.4" stroke-linejoin="round" />
<path d="M175.12,440.28 L175.42,440.17 L175.73,440.05 L176.03,439.92 L176.33,439.79 L176.64,439.64 L176.94,439.49 L177.24,439.33 L177.55,439.16 L177.85,438.97 L178.15,438.78 L178.46,438.57 L178.76,438.36 L179.06,438.13 L179.37,437.88 L179.67,437.62 L179.97,437.35 L180.28,437.06 L180.58,436.76 L180.88,436.44 L181.19,436.10 L181.49,435.74 L181.79,435.36 L182.10,434.97 L182.40,434.55 L182.70,434.12 L183.01,433.66 L183.31,433.18 L183.61,432.67 L183.91,432.14 L184.22,431.59 L184.52,431.01 L184.82,430.40 L185.13,429.77 L185.43,429.10 L185.73,428.41 L186.04,427.69 L186.34,426.94 L186.64,426.16 L186.95,425.34 L187.25,424.49 L187.55,423.61 L187.86,422.69 L188.16,421.74 L188.46,420.76 L188.77,419.74 L189.07,418.68 L189.37,417.58 L189.68,416.45 L189.98,415.28 L190.28,414.07 L190.59,412.82 L190.89,411.53 L191.19,410.20 L191.50,408.84 L191.80,407.43 L192.10,405.98 L192.41,404.50 L192.71,402.97 L193.01,401.41 L193.32,399.81 L193.62,398.16 L193.92,396.48 L194.23,394.76 L194.53,393.01 L194.83,391.21 L195.14,389.38 L195.44,387.52 L195.74,385.62 L196.05,383.68 L196.35,381.72 L196.65,379.72 L196.95,377.70 L197.26,375.64 L197.56,373.56 L197.86,371.45 L198.17,369.32 L198.47,367.17 L198.77,364.99 L199.08,362.80 L199.38,360.60 L199.68,358.37 L199.99,356.14 L200.29,353.90 L200.59,351.64 L200.90,349.39 L201.20,347.13 L201.50,344.87 L201.81,342.61 L202.11,340.36 L202.41,338.12 L202.72,335.89 L203.02,333.67 L203.32,331.47 L203.63,329.28 L203.93,327.12 L204.23,324.99 L204.54,322.88 L204.84,320.80 L205.14,318.76 L205.45,316.75 L205.75,314.79 L206.05,312.86 L206.36,310.98 L206.66,309.15 L206.96,307.37 L207.27,305.65 L207.57,303.98 L207.87,302.37 L208.18,300.82 L208.48,299.34 L208.78,297.92 L209.08,296.57 L209.39,295.29 L209.69,294.08 L209.99,292.95 L210.30,291.90 L210.60,290.92 L210.90,290.03 L211.21,289.22 L211.51,288.49 L211.81,287.84 L212.12,287.28 L212.42,286.80 L212.72,286.42 L213.03,286.12 L213.33,285.91 L213.63,285.78 L213.94,285.75 L214.24,285.81 L214.54,285.95 L214.85,286.18 L215.15,286.50 L215.45,286.91 L215.76,287.41 L216.06,287.99 L216.36,288.66 L216.67,289.41 L216.97,290.24 L217.27,291.16 L217.58,292.15 L217.88,293.22 L218.18,294.37 L218.49,295.60 L218.79,296.89 L219.09,298.26 L219.40,299.69 L219.70,301.19 L220.00,302.76 L220.31,304.38 L220.61,306.06 L220.91,307.80 L221.22,309.60 L221.52,311.44 L221.82,313.33 L222.12,315.26 L222.43,317.24 L222.73,319.25 L223.03,321.31 L223.34,323.39 L223.64,325.51 L223.94,327.65 L224.25,329.81 L224.55,332.00 L224.85,334.21 L225.16,336.43 L225.46,338.67 L225.76,340.91 L226.07,343.16 L226.37,345.42 L226.67,347.68 L226.98,349.94 L227.28,352.19 L227.58,354.44 L227.89,356.69 L228.19,358.92 L228.49,361.14 L228.80,363.34 L229.10,365.53 L229.40,367.70 L229.71,369.84 L230.01,371.97 L230.31,374.07 L230.62,376.15 L230.92,378.19 L231.22,380.21 L231.53,382.20 L231.83,384.16 L232.13,386.08 L232.44,387.98 L232.74,389.83 L233.04,391.65 L233.35,393.44 L233.65,395.19 L233.95,396.90 L234.26,398.57 L234.56,400.20 L234.86,401.80 L235.16,403.35 L235.47,404.87 L235.77,406.34 L236.07,407.78 L236.38,409.17 L236.68,410.53 L236.98,411.85 L237.29,413.13 L237.59,414.37 L237.89,415.57 L238.20,416.73 L238.50,417.85 L238.80,418.94 L239.11,419.99 L239.41,421.00 L239.71,421.98 L240.02,422.92 L240.32,423.83 L240.62,424.70 L240.93,425.54 L241.23,426.35 L241.53,427.13 L241.84,427.87 L242.14,428.58 L242.44,429.27 L242.75,429.92 L243.05,430.55 L243.35,431.15 L243.66,431.73 L243.96,432.27 L244.26,432.80 L244.57,433.30 L244.87,433.77 L245.17,434.23 L245.48,434.66 L245.78,435.07 L246.08,435.46 L246.39,435.83 L246.69,436.18 L246.99,436.52 L247.29,436.83 L247.60,437.13 L247.90,437.42 L248.20,437.69 L248.51,437.94 L248.81,438.18 L249.11,438.41 L249.42,438.63 L249.72,438.83 L250.02,439.02 L250.33,439.20 L250.63,439.37 L250.93,439.53 L251.24,439.68 L251.54,439.82 L251.84,439.95 L252.15,440.08 L252.45,440.19 L252.75,440.30 L253.06,440.40 L253.36,440.50 L253.66,440.59 L253.97,440.67 L254.27,440.75 L254.57,440.83 L254.88,440.89 L255.18,440.96 L255.48,441.02 L255.79,441.07 L256.09,441.12 L256.39,441.17 L256.70,441.22 L257.00,441.26 L257.30,441.30 L257.61,441.33 L257.91,441.36 L258.21,441.40 L258.52,441.42 L258.82,441.45 L259.12,441.47 L259.43,441.50 L259.73,441.52 L260.03,441.54 L260.33,441.55 L260.64,441.57 L260.94,441.59 L261.24,441.60 L261.55,441.61 L261.85,441.62 L262.15,441.64 L262.46,441.65 L262.76,441.65 L263.06,441.66 L263.37,441.67 L263.67,441.68 L263.97,441.68 L264.28,441.69 L264.58,441.70 L264.88,441.70 L265.19,441.71 L265.49,441.71 L265.79,441.71 L266.10,441.72 L266.40,441.72" fill="none" stroke="#22dd22" stroke-width="1.4" stroke-linejoin="round" />
<path d="M66.25,441.74 L66.56,441.74 L66.86,441.74 L67.16,441.74 L67.47,441.73 L67.77,441.73 L68.07,441.73 L68.38,441.72 L68.68,441.72 L68.98,441.71 L69.28,441.71 L69.59,441.70 L69.89,441.69 L70.19,441.68 L70.50,441.67 L70.80,441.66 L71.10,441.64 L71.41,441.62 L71.71,441.60 L72.01,441.58 L72.32,441.56 L72.62,441.53 L72.92,441.50 L73.23,441.47 L73.53,441.43 L73.83,441.38 L74.14,441.33 L74.44,441.28 L74.74,441.22 L75.05,441.15 L75.35,441.08 L75.65,440.99 L75.96,440.90 L76.26,440.80 L76.56,440.69 L76.87,440.57 L77.17,440.44 L77.47,440.29 L77.78,440.14 L78.08,439.97 L78.38,439.78 L78.69,439.58 L78.99,439.36 L79.29,439.13 L79.60,438.88 L79.90,438.61 L80.20,438.32 L80.51,438.02 L80.81,437.69 L81.11,437.34 L81.42,436.98 L81.72,436.59 L82.02,436.18 L82.32,435.75 L82.63,435.30 L82.93,434.83 L83.23,434.33 L83.54,433.82 L83.84,433.29 L84.14,432.73 L84.45,432.16 L84.75,431.58 L85.05,430.97 L85.36,430.36 L85.66,429.73 L85.96,429.09 L86.27,428.44 L86.57,427.78 L86.87,427.12 L87.18,426.46 L87.48,425.79 L87.78,425.13 L88.09,424.47 L88.39,423.82 L88.69,423.18 L89.00,422.56 L89.30,421.95 L89.60,421.36 L89.91,420.79 L90.21,420.24 L90.51,419.73 L90.82,419.24 L91.12,418.79 L91.42,418.37 L91.73,417.98 L92.03,417.64 L92.33,417.33 L92.64,417.07 L92.94,416.86 L93.24,416.69 L93.55,416.56 L93.85,416.48 L94.15,416.45 L94.45,416.47 L94.76,416.53 L95.06,416.64 L95.36,416.80 L95.67,417.00 L95.97,417.25 L96.27,417.54 L96.58,417.87 L96.88,418.24 L97.18,418.65 L97.49,419.09 L97.79,419.57 L98.09,420.08 L98.40,420.61 L98.70,421.17 L99.00,421.76 L99.31,422.36 L99.61,422.98 L99.91,423.62 L100.22,424.26 L100.52,424.92 L100.82,425.58 L101.13,426.24 L101.43,426.91 L101.73,427.57 L102.04,428.23 L102.34,428.88 L102.64,429.53 L102.95,430.16 L103.25,430.78 L103.55,431.39 L103.86,431.98 L104.16,432.55 L104.46,433.11 L104.77,433.65 L105.07,434.17 L105.37,434.67 L105.68,435.15 L105.98,435.61 L106.28,436.05 L106.59,436.46 L106.89,436.86 L107.19,437.23 L107.49,437.58 L107.80,437.92 L108.10,438.23 L108.40,438.52 L108.71,438.80 L109.01,439.05 L109.31,439.29 L109.62,439.51 L109.92,439.72 L110.22,439.91 L110.53,440.08 L110.83,440.25 L111.13,440.39 L111.44,440.53 L111.74,440.65 L112.04,440.77 L112.35,440.87 L112.65,440.97 L112.95,441.05 L113.26,441.13 L113.56,441.20 L113.86,441.26 L114.17,441.32 L114.47,441.37 L114.77,441.41 L115.08,441.45 L115.38,441.49 L115.68,441.52 L115.99,441.55 L116.29,441.58 L116.59,441.60 L116.90,441.62 L117.20,441.64 L117.50,441.65 L117.81,441.66 L118.11,441.68 L118.41,441.69 L118.72,441.70 L119.02,441.70 L119.32,441.71 L119.63,441.72 L119.93,441.72 L120.23,441.72 L120.53,441.73 L120.84,441.73 L121.14,441.73 L121.44,441.74 L121.75,441.74 L122.05,441.74 L122.35,441.74 L122.66,441.74 L122.96,441.74 L123.26,441.75 L123.57,441.75 L123.87,441.75 L124.17,441.75 L124.48,441.75 L124.78,441.75" fill="none" stroke="#2323cc" stroke-width="1.5" stroke-linejoin="round" />
<path d="M24.10,434.54 L24.40,434.15 L24.71,433.75 L25.01,433.33 L25.31,432.90 L25.62,432.45 L25.92,431.98 L26.22,431.49 L26.53,430.98 L26.83,430.45 L27.13,429.90 L27.44,429.33 L27.74,428.74 L28.04,428.13 L28.35,427.50 L28.65,426.84 L28.95,426.16 L29.26,425.46 L29.56,424.74 L29.86,423.99 L30.17,423.22 L30.47,422.43 L30.77,421.61 L31.07,420.77 L31.38,419.90 L31.68,419.01 L31.98,418.10 L32.29,417.16 L32.59,416.20 L32.89,415.21 L33.20,414.19 L33.50,413.15 L33.80,412.09 L34.11,411.01 L34.41,409.90 L34.71,408.76 L35.02,407.60 L35.32,406.42 L35.62,405.22 L35.93,403.99 L36.23,402.75 L36.53,401.48 L36.84,400.19 L37.14,398.88 L37.44,397.55 L37.75,396.21 L38.05,394.84 L38.35,393.46 L38.66,392.06 L38.96,390.65 L39.26,389.23 L39.57,387.79 L39.87,386.34 L40.17,384.87 L40.48,383.40 L40.78,381.92 L41.08,380.44 L41.39,378.95 L41.69,377.45 L41.99,375.95 L42.30,374.45 L42.60,372.95 L42.90,371.45 L43.21,369.95 L43.51,368.46 L43.81,366.97 L44.11,365.50 L44.42,364.03 L44.72,362.57 L45.02,361.13 L45.33,359.70 L45.63,358.28 L45.93,356.89 L46.24,355.51 L46.54,354.15 L46.84,352.82 L47.15,351.51 L47.45,350.23 L47.75,348.98 L48.06,347.75 L48.36,346.56 L48.66,345.40 L48.97,344.28 L49.27,343.19 L49.57,342.13 L49.88,341.12 L50.18,340.15 L50.48,339.21 L50.79,338.33 L51.09,337.48 L51.39,336.68 L51.70,335.93 L52.00,335.22 L52.30,334.57 L52.61,333.96 L52.91,333.40 L53.21,332.90 L53.52,332.44 L53.82,332.04 L54.12,331.69 L54.43,331.40 L54.73,331.16 L55.03,330.98 L55.34,330.85 L55.64,330.77 L55.94,330.75 L56.24,330.79 L56.55,330.88 L56.85,331.02 L57.15,331.22 L57.46,331.48 L57.76,331.78 L58.06,332.15 L58.37,332.56 L58.67,333.03 L58.97,333.55 L59.28,334.12 L59.58,334.74 L59.88,335.41 L60.19,336.13 L60.49,336.90 L60.79,337.71 L61.10,338.57 L61.40,339.47 L61.70,340.41 L62.01,341.39 L62.31,342.42 L62.61,343.48 L62.92,344.58 L63.22,345.72 L63.52,346.89 L63.83,348.09 L64.13,349.32 L64.43,350.58 L64.74,351.87 L65.04,353.19 L65.34,354.52 L65.65,355.89 L65.95,357.27 L66.25,358.67 L66.56,360.09 L66.86,361.52 L67.16,362.97 L67.47,364.43 L67.77,365.90 L68.07,367.38 L68.38,368.87 L68.68,370.36 L68.98,371.86 L69.28,373.36 L69.59,374.86 L69.89,376.36 L70.19,377.86 L70.50,379.36 L70.80,380.85 L71.10,382.33 L71.41,383.81 L71.71,385.28 L72.01,386.74 L72.32,388.18 L72.62,389.62 L72.92,391.04 L73.23,392.45 L73.53,393.84 L73.83,395.22 L74.14,396.58 L74.44,397.92 L74.74,399.24 L75.05,400.55 L75.35,401.83 L75.65,403.09 L75.96,404.33 L76.26,405.55 L76.56,406.75 L76.87,407.92 L77.17,409.08 L77.47,410.20 L77.78,411.31 L78.08,412.39 L78.38,413.44 L78.69,414.47 L78.99,415.48 L79.29,416.46 L79.60,417.42 L79.90,418.35 L80.20,419.26 L80.51,420.15 L80.81,421.00 L81.11,421.84 L81.42,422.65 L81.72,423.44 L82.02,424.20 L82.32,424.94 L82.63,425.66 L82.93,426.35 L83.23,427.02 L83.54,427.67 L83.84,428.30 L84.14,428.90 L84.45,429.49 L84.75,430.05 L85.05,430.60 L85.36,431.12 L85.66,431.62 L85.96,432.11 L86.27,432.57 L86.57,433.02 L86.87,433.45 L87.18,433.86 L87.48,434.26 L87.78,434.64 L88.09,435.00 L88.39,435.35 L88.69,435.69 L89.00,436.00 L89.30,436.31 L89.60,436.60 L89.91,436.88 L90.21,437.14 L90.51,437.40 L90.82,437.64 L91.12,437.87 L91.42,438.09 L91.73,438.29 L92.03,438.49 L92.33,438.68 L92.64,438.86 L92.94,439.03 L93.24,439.19 L93.55,439.34 L93.85,439.49 L94.15,439.62 L94.45,439.75 L94.76,439.88 L95.06,439.99 L95.36,440.10 L95.67,440.21 L95.97,440.30 L96.27,440.40 L96.58,440.48 L96.88,440.57 L97.18,440.64 L97.49,440.72 L97.79,440.78 L98.09,440.85 L98.40,440.91 L98.70,440.97 L99.00,441.02 L99.31,441.07 L99.61,441.12 L99.91,441.16 L100.22,441.20 L100.52,441.24 L100.82,441.28 L101.13,441.31 L101.43,441.34 L101.73,441.37 L102.04,441.40 L102.34,441.42 L102.64,441.45 L102.95,441.47 L103.25,441.49 L103.55,441.51 L103.86,441.53 L104.16,441.55 L104.46,441.56 L104.77,441.58 L105.07,441.59 L105.37,441.60 L105.68,441.61 L105.98,441.62 L106.28,441.63 L106.59,441.64 L106.89,441.65 L107.19,441.66 L107.49,441.67 L107.80,441.67 L108.10,441.68 L108.40,441.69 L108.71,441.69 L109.01,441.70 L109.31,441.70 L109.62,441.70 L109.92,441.71 L110.22,441.71 L110.53,441.72 L110.83,441.72 L111.13,441.72 L111.44,441.72 L111.74,441.73" fill="none" stroke="#1fe0e0" stroke-width="1.5" stroke-linejoin="round" />
<path d="M24.10,434.54 L24.40,434.15 L24.71,433.75 L25.01,433.33 L25.31,432.90 L25.62,432.45 L25.92,431.98 L26.22,431.49 L26.53,430.98 L26.83,430.45 L27.13,429.90 L27.44,429.33 L27.74,428.74 L28.04,428.13 L28.35,427.50 L28.65,426.84 L28.95,426.16 L29.26,425.46 L29.56,424.74 L29.86,423.99 L30.17,423.22 L30.47,422.43 L30.77,421.61 L31.07,420.77 L31.38,419.90 L31.68,419.01 L31.98,418.10 L32.29,417.16 L32.59,416.20 L32.89,415.21 L33.20,414.19 L33.50,413.15 L33.80,412.09 L34.11,411.01 L34.41,409.90 L34.71,408.76 L35.02,407.60 L35.32,406.42 L35.62,405.22 L35.93,403.99 L36.23,402.75 L36.53,401.48 L36.84,400.19 L37.14,398.88 L37.44,397.55 L37.75,396.21 L38.05,394.84 L38.35,393.46 L38.66,392.06 L38.96,390.65 L39.26,389.23 L39.57,387.79 L39.87,386.34 L40.17,384.87 L40.48,383.40 L40.78,381.92 L41.08,380.44 L41.39,378.95 L41.69,377.45 L41.99,375.95 L42.30,374.45 L42.60,372.95 L42.90,371.45 L43.21,369.95 L43.51,368.46 L43.81,366.97 L44.11,365.50 L44.42,364.03 L44.72,362.57 L45.02,361.13 L45.33,359.70 L45.63,358.28 L45.93,356.89 L46.24,355.51 L46.54,354.15 L46.84,352.82 L47.15,351.51 L47.45,350.23 L47.75,348.98 L48.06,347.75 L48.36,346.56 L48.66,345.40 L48.97,344.28 L49.27,343.19 L49.57,342.13 L49.88,341.12 L50.18,340.15 L50.48,339.21 L50.79,338.33 L51.09,337.48 L51.39,336.68 L51.70,335.93 L52.00,335.22 L52.30,334.57 L52.61,333.96 L52.91,333.40 L53.21,332.90 L53.52,332.44 L53.82,332.04 L54.12,331.69 L54.43,331.40 L54.73,331.16 L55.03,330.98 L55.34,330.85 L55.64,330.77 L55.94,330.75 L56.24,330.79 L56.55,330.88 L56.85,331.02 L57.15,331.22 L57.46,331.48 L57.76,331.78 L58.06,332.15 L58.37,332.56 L58.67,333.03 L58.97,333.55 L59.28,334.12 L59.58,334.74 L59.88,335.41 L60.19,336.13 L60.49,336.90 L60.79,337.71 L61.10,338.57 L61.40,339.47 L61.70,340.41 L62.01,341.39 L62.31,342.42 L62.61,343.48 L62.92,344.58 L63.22,345.72 L63.52,346.88 L63.83,348.09 L64.13,349.32 L64.43,350.58 L64.74,351.87 L65.04,353.18 L65.34,354.52 L65.65,355.88 L65.95,357.26 L66.25,358.66 L66.56,360.08 L66.86,361.51 L67.16,362.96 L67.47,364.41 L67.77,365.88 L68.07,367.36 L68.38,368.84 L68.68,370.33 L68.98,371.82 L69.28,373.32 L69.59,374.81 L69.89,376.30 L70.19,377.79 L70.50,379.27 L70.80,380.75 L71.10,382.22 L71.41,383.68 L71.71,385.13 L72.01,386.57 L72.32,387.99 L72.62,389.40 L72.92,390.79 L73.23,392.17 L73.53,393.52 L73.83,394.85 L74.14,396.16 L74.44,397.45 L74.74,398.71 L75.05,399.95 L75.35,401.16 L75.65,402.34 L75.96,403.49 L76.26,404.61 L76.56,405.69 L76.87,406.75 L77.17,407.76 L77.47,408.75 L77.78,409.69 L78.08,410.60 L78.38,411.47 L78.69,412.30 L78.99,413.09 L79.29,413.84 L79.60,414.55 L79.90,415.21 L80.20,415.84 L80.51,416.41 L80.81,416.95 L81.11,417.43 L81.42,417.88 L81.72,418.28 L82.02,418.63 L82.32,418.94 L82.63,419.21 L82.93,419.43 L83.23,419.61 L83.54,419.74 L83.84,419.83 L84.14,419.89 L84.45,419.90 L84.75,419.88 L85.05,419.82 L85.36,419.73 L85.66,419.60 L85.96,419.45 L86.27,419.26 L86.57,419.05 L86.87,418.82 L87.18,418.57 L87.48,418.30 L87.78,418.02 L88.09,417.73 L88.39,417.42 L88.69,417.12 L89.00,416.81 L89.30,416.51 L89.60,416.21 L89.91,415.92 L90.21,415.64 L90.51,415.37 L90.82,415.13 L91.12,414.90 L91.42,414.70 L91.73,414.53 L92.03,414.38 L92.33,414.27 L92.64,414.18 L92.94,414.14 L93.24,414.13 L93.55,414.15 L93.85,414.22 L94.15,414.32 L94.45,414.47 L94.76,414.66 L95.06,414.88 L95.36,415.15 L95.67,415.46 L95.97,415.80 L96.27,416.18 L96.58,416.60 L96.88,417.05 L97.18,417.54 L97.49,418.06 L97.79,418.60 L98.09,419.17 L98.40,419.77 L98.70,420.39 L99.00,421.03 L99.31,421.68 L99.61,422.35 L99.91,423.03 L100.22,423.71 L100.52,424.41 L100.82,425.11 L101.13,425.80 L101.43,426.50 L101.73,427.19 L102.04,427.88 L102.34,428.56 L102.64,429.22 L102.95,429.88 L103.25,430.52 L103.55,431.15 L103.86,431.76 L104.16,432.35 L104.46,432.92 L104.77,433.48 L105.07,434.01 L105.37,434.52 L105.68,435.01 L105.98,435.48 L106.28,435.93 L106.59,436.35 L106.89,436.76 L107.19,437.14 L107.49,437.50 L107.80,437.84 L108.10,438.16 L108.40,438.46 L108.71,438.74 L109.01,439.00 L109.31,439.24 L109.62,439.47 L109.92,439.68 L110.22,439.87 L110.53,440.05 L110.83,440.21 L111.13,440.36 L111.44,440.50 L111.74,440.63 L112.04,440.75 L112.35,440.85 L112.65,440.95 L112.95,441.03 L113.26,441.11 L113.56,441.18 L113.86,441.25 L114.17,441.31 L114.47,441.36 L114.77,441.40 L115.08,441.45 L115.38,441.48 L115.68,441.51 L115.99,441.54 L116.29,441.57 L116.59,441.59 L116.90,441.61 L117.20,441.63 L117.50,441.65 L117.81,441.66 L118.11,441.67 L118.41,441.68 L118.72,441.69 L119.02,441.70 L119.32,441.71 L119.63,441.71 L119.93,441.72 L120.23,441.72 L120.53,441.73 L120.84,441.73 L121.14,441.73 L121.44,441.74 L121.75,441.74 L122.05,441.74 L122.35,441.74 L122.66,441.74 L122.96,441.74 L123.26,441.74 L123.57,441.75 L123.87,441.75 L124.17,441.75 L124.48,441.75 L124.78,441.75 L125.08,441.75 L125.39,441.75 L125.69,441.75 L125.99,441.75 L126.30,441.75 L126.60,441.75 L126.90,441.75 L127.21,441.75 L127.51,441.75 L127.81,441.75 L128.12,441.75 L128.42,441.75 L128.72,441.75 L129.03,441.75 L129.33,441.75 L129.63,441.75 L129.94,441.75 L130.24,441.75 L130.54,441.75 L130.85,441.75 L131.15,441.75 L131.45,441.75 L131.76,441.75 L132.06,441.75 L132.36,441.75 L132.66,441.75 L132.97,441.75 L133.27,441.75 L133.57,441.75 L133.88,441.75 L134.18,441.75 L134.48,441.75 L134.79,441.75 L135.09,441.75 L135.39,441.75 L135.70,441.75 L136.00,441.75 L136.30,441.75 L136.61,441.75 L136.91,441.75 L137.21,441.75 L137.52,441.75 L137.82,441.75 L138.12,441.75 L138.43,441.75 L138.73,441.75 L139.03,441.75 L139.34,441.75 L139.64,441.75 L139.94,441.75 L140.25,441.75 L140.55,441.75 L140.85,441.75 L141.16,441.75 L141.46,441.75 L141.76,441.75 L142.07,441.75 L142.37,441.75 L142.67,441.75 L142.98,441.75 L143.28,441.75 L143.58,441.75 L143.89,441.75 L144.19,441.75 L144.49,441.75 L144.80,441.75 L145.10,441.75 L145.40,441.75 L145.70,441.75 L146.01,441.75 L146.31,441.75 L146.61,441.75 L146.92,441.75 L147.22,441.75 L147.52,441.75 L147.83,441.75 L148.13,441.75 L148.43,441.75 L148.74,441.75 L149.04,441.75 L149.34,441.75 L149.65,441.75 L149.95,441.75 L150.25,441.75 L150.56,441.75 L150.86,441.75 L151.16,441.75 L151.47,441.75 L151.77,441.75 L152.07,441.75 L152.38,441.75 L152.68,441.75 L152.98,441.75 L153.29,441.75 L153.59,441.75 L153.89,441.75 L154.20,441.75 L154.50,441.75 L154.80,441.75 L155.11,441.75 L155.41,441.75 L155.71,441.75 L156.02,441.75 L156.32,441.74 L156.62,441.74 L156.93,441.74 L157.23,441.74 L157.53,441.74 L157.84,441.74 L158.14,441.74 L158.44,441.74 L158.74,441.74 L159.05,441.74 L159.35,441.73 L159.65,441.73 L159.96,441.73 L160.26,441.73 L160.56,441.73 L160.87,441.72 L161.17,441.72 L161.47,441.72 L161.78,441.72 L162.08,441.71 L162.38,441.71 L162.69,441.70 L162.99,441.70 L163.29,441.69 L163.60,441.69 L163.90,441.68 L164.20,441.68 L164.51,441.67 L164.81,441.66 L165.11,441.65 L165.42,441.64 L165.72,441.63 L166.02,441.62 L166.33,441.61 L166.63,441.60 L166.93,441.58 L167.24,441.57 L167.54,441.55 L167.84,441.53 L168.15,441.51 L168.45,441.49 L168.75,441.47 L169.06,441.44 L169.36,441.42 L169.66,441.39 L169.97,441.36 L170.27,441.32 L170.57,441.29 L170.87,441.25 L171.18,441.21 L171.48,441.16 L171.78,441.11 L172.09,441.06 L172.39,441.00 L172.69,440.94 L173.00,440.88 L173.30,440.81 L173.60,440.73 L173.91,440.65 L174.21,440.57 L174.51,440.48 L174.82,440.38 L175.12,440.28 L175.42,440.17 L175.73,440.05 L176.03,439.92 L176.33,439.79 L176.64,439.64 L176.94,439.49 L177.24,439.33 L177.55,439.16 L177.85,438.97 L178.15,438.78 L178.46,438.57 L178.76,438.36 L179.06,438.13 L179.37,437.88 L179.67,437.62 L179.97,437.35 L180.28,437.06 L180.58,436.76 L180.88,436.44 L181.19,436.10 L181.49,435.74 L181.79,435.36 L182.10,434.97 L182.40,434.55 L182.70,434.12 L183.01,433.66 L183.31,433.18 L183.61,432.67 L183.91,432.14 L184.22,431.59 L184.52,431.01 L184.82,430.40 L185.13,429.77 L185.43,429.10 L185.73,428.41 L186.04,427.69 L186.34,426.94 L186.64,426.16 L186.95,425.34 L187.25,424.49 L187.55,423.61 L187.86,422.69 L188.16,421.74 L188.46,420.76 L188.77,419.74 L189.07,418.68 L189.37,417.58 L189.68,416.45 L189.98,415.28 L190.28,414.07 L190.59,412.82 L190.89,411.53 L191.19,410.20 L191.50,408.84 L191.80,407.43 L192.10,405.98 L192.41,404.50 L192.71,402.97 L193.01,401.41 L193.32,399.81 L193.62,398.16 L193.92,396.48 L194.23,394.76 L194.53,393.01 L194.83,391.21 L195.14,389.38 L195.44,387.52 L195.74,385.62 L196.05,383.68 L196.35,381.72 L196.65,379.72 L196.95,377.70 L197.26,375.64 L197.56,373.56 L197.86,371.45 L198.17,369.32 L198.47,367.17 L198.77,364.99 L199.08,362.80 L199.38,360.60 L199.68,358.37 L199.99,356.14 L200.29,353.90 L200.59,351.64 L200.90,349.39 L201.20,347.13 L201.50,344.87 L201.81,342.61 L202.11,340.36 L202.41,338.12 L202.72,335.89 L203.02,333.67 L203.32,331.47 L203.63,329.28 L203.93,327.12 L204.23,324.99 L204.54,322.88 L204.84,320.80 L205.14,318.76 L205.45,316.75 L205.75,314.79 L206.05,312.86 L206.36,310.98 L206.66,309.15 L206.96,307.37 L207.27,305.65 L207.57,303.98 L207.87,302.37 L208.18,300.82 L208.48,299.34 L208.78,297.92 L209.08,296.57 L209.39,295.29 L209.69,294.08 L209.99,292.95 L210.30,291.90 L210.60,290.92 L210.90,290.03 L211.21,289.22 L211.51,288.49 L211.81,287.84 L212.12,287.28 L212.42,286.80 L212.72,286.42 L213.03,286.12 L213.33,285.91 L213.63,285.78 L213.94,285.75 L214.24,285.81 L214.54,285.95 L214.85,286.18 L215.15,286.50 L215.45,286.91 L215.76,287.41 L216.06,287.99 L216.36,288.65 L216.67,289.40 L216.97,290.24 L217.27,291.15 L217.58,292.14 L217.88,293.22 L218.18,294.36 L218.49,295.59 L218.79,296.88 L219.09,298.25 L219.40,299.68 L219.70,301.18 L220.00,302.74 L220.31,304.36 L220.61,306.04 L220.91,307.78 L221.22,309.56 L221.52,311.40 L221.82,313.29 L222.12,315.21 L222.43,317.18 L222.73,319.19 L223.03,321.23 L223.34,323.31 L223.64,325.41 L223.94,327.54 L224.25,329.69 L224.55,331.87 L224.85,334.06 L225.16,336.26 L225.46,338.47 L225.76,340.69 L226.07,342.92 L226.37,345.14 L226.67,347.37 L226.98,349.59 L227.28,351.80 L227.58,354.00 L227.89,356.19 L228.19,358.37 L228.49,360.53 L228.80,362.66 L229.10,364.78 L229.40,366.86 L229.71,368.92 L230.01,370.95 L230.31,372.95 L230.62,374.91 L230.92,376.83 L231.22,378.72 L231.53,380.56 L231.83,382.36 L232.13,384.12 L232.44,385.83 L232.74,387.49 L233.04,389.10 L233.35,390.66 L233.65,392.17 L233.95,393.63 L234.26,395.03 L234.56,396.38 L234.86,397.67 L235.16,398.90 L235.47,400.07 L235.77,401.19 L236.07,402.25 L236.38,403.24 L236.68,404.18 L236.98,405.06 L237.29,405.89 L237.59,406.65 L237.89,407.35 L238.20,408.00 L238.50,408.59 L238.80,409.12 L239.11,409.60 L239.41,410.02 L239.71,410.39 L240.02,410.71 L240.32,410.98 L240.62,411.21 L240.93,411.38 L241.23,411.52 L241.53,411.61 L241.84,411.66 L242.14,411.67 L242.44,411.65 L242.75,411.60 L243.05,411.52 L243.35,411.41 L243.66,411.28 L243.96,411.13 L244.26,410.97 L244.57,410.78 L244.87,410.59 L245.17,410.39 L245.48,410.18 L245.78,409.97 L246.08,409.77 L246.39,409.56 L246.69,409.37 L246.99,409.18 L247.29,409.01 L247.60,408.85 L247.90,408.71 L248.20,408.59 L248.51,408.49 L248.81,408.42 L249.11,408.37 L249.42,408.35 L249.72,408.36 L250.02,408.40 L250.33,408.48 L250.63,408.59 L250.93,408.73 L251.24,408.91 L251.54,409.12 L251.84,409.37 L252.15,409.65 L252.45,409.97 L252.75,410.32 L253.06,410.70 L253.36,411.12 L253.66,411.57 L253.97,412.06 L254.27,412.57 L254.57,413.11 L254.88,413.67 L255.18,414.26 L255.48,414.88 L255.79,415.51 L256.09,416.17 L256.39,416.84 L256.70,417.53 L257.00,418.23 L257.30,418.94 L257.61,419.66 L257.91,420.38 L258.21,421.11 L258.52,421.85 L258.82,422.58 L259.12,423.31 L259.43,424.04 L259.73,424.76 L260.03,425.48 L260.33,426.19 L260.64,426.89 L260.94,427.58 L261.24,428.25 L261.55,428.91 L261.85,429.56 L262.15,430.19 L262.46,430.80 L262.76,431.39 L263.06,431.97 L263.37,432.53 L263.67,433.06 L263.97,433.58 L264.28,434.08 L264.58,434.56 L264.88,435.02 L265.19,435.45 L265.49,435.87 L265.79,436.27 L266.10,436.65 L266.40,437.01" fill="none" stroke="#e01fe0" stroke-width="1.65" stroke-linejoin="round" />
<text transform="translate(130.03,280.60) scale(0.9985,1)" font-size="21.60" font-weight="bold" fill="#000">(c)</text>
<text transform="translate(44.57,320.20) scale(0.9215,1)" font-size="14.40" font-weight="bold" fill="#e01fe0">Sn</text>
<text transform="translate(63.17,314.60) scale(1.1129,1)" font-size="7.60" font-weight="bold" fill="#e01fe0">4+</text>
<text transform="translate(200.68,274.20) scale(0.9148,1)" font-size="14.40" font-weight="bold" fill="#e01fe0">Sn</text>
<text transform="translate(215.67,268.60) scale(1.0182,1)" font-size="8.60" font-weight="bold" fill="#e01fe0">4+</text>
<text transform="translate(98.90,411.11) rotate(-90) scale(1.1248,1)" font-size="9.90" font-weight="bold" fill="#2323cc">Sn(II &amp; III) 3d</text>
<text transform="translate(102.00,339.84) rotate(-90) scale(1.0480,1)" font-size="6.60" font-weight="bold" fill="#2323cc">3/2</text>
<text transform="translate(250.60,356.44) rotate(90) scale(1.0923,1)" font-size="12.70" font-weight="bold" fill="#e01414">Sn 3d</text>
<text transform="translate(246.60,390.41) rotate(90) scale(1.2343,1)" font-size="8.00" font-weight="bold" fill="#e01414">5/2</text>
<rect x="23.60" y="260.10" width="243.30" height="214.50" fill="none" stroke="#000" stroke-width="1.5"/>
<line x1="23.60" y1="474.60" x2="23.60" y2="478.60" stroke="#000" stroke-width="1.3" />
<line x1="42.32" y1="474.60" x2="42.32" y2="478.60" stroke="#000" stroke-width="1.3" />
<text transform="translate(33.59,492.00) scale(0.8903,1)" font-size="13.20" font-weight="bold" fill="#000">496</text>
<line x1="61.03" y1="474.60" x2="61.03" y2="478.60" stroke="#000" stroke-width="1.3" />
<line x1="79.75" y1="474.60" x2="79.75" y2="478.60" stroke="#000" stroke-width="1.3" />
<text transform="translate(71.02,492.00) scale(0.8843,1)" font-size="13.20" font-weight="bold" fill="#000">494</text>
<line x1="98.46" y1="474.60" x2="98.46" y2="478.60" stroke="#000" stroke-width="1.3" />
<line x1="117.18" y1="474.60" x2="117.18" y2="478.60" stroke="#000" stroke-width="1.3" />
<text transform="translate(108.45,492.00) scale(0.8996,1)" font-size="13.20" font-weight="bold" fill="#000">492</text>
<line x1="135.89" y1="474.60" x2="135.89" y2="478.60" stroke="#000" stroke-width="1.3" />
<line x1="154.61" y1="474.60" x2="154.61" y2="478.60" stroke="#000" stroke-width="1.3" />
<text transform="translate(145.88,492.00) scale(0.8965,1)" font-size="13.20" font-weight="bold" fill="#000">490</text>
<line x1="173.32" y1="474.60" x2="173.32" y2="478.60" stroke="#000" stroke-width="1.3" />
<line x1="192.04" y1="474.60" x2="192.04" y2="478.60" stroke="#000" stroke-width="1.3" />
<text transform="translate(183.31,492.00) scale(0.8934,1)" font-size="13.20" font-weight="bold" fill="#000">488</text>
<line x1="210.75" y1="474.60" x2="210.75" y2="478.60" stroke="#000" stroke-width="1.3" />
<line x1="229.47" y1="474.60" x2="229.47" y2="478.60" stroke="#000" stroke-width="1.3" />
<text transform="translate(220.74,492.00) scale(0.8903,1)" font-size="13.20" font-weight="bold" fill="#000">486</text>
<line x1="248.18" y1="474.60" x2="248.18" y2="478.60" stroke="#000" stroke-width="1.3" />
<line x1="266.90" y1="474.60" x2="266.90" y2="478.60" stroke="#000" stroke-width="1.3" />
<text transform="translate(258.17,492.00) scale(0.8843,1)" font-size="13.20" font-weight="bold" fill="#000">484</text>
<text transform="translate(88.81,505.60) scale(0.9391,1)" font-size="13.70" font-weight="bold" fill="#000">Binding Energy (eV)</text>
<text transform="translate(17.70,426.49) rotate(-90) scale(1.1266,1)" font-size="12.50" font-weight="bold" fill="#000">Intenisity (arb.unit)</text>
<polyline points="290.90,456.17 295.85,456.95 300.80,457.06 305.76,455.92 310.71,456.42 315.66,457.00 320.61,455.90 325.56,456.60 330.52,452.90 335.47,453.60 340.42,452.87 345.37,452.20 350.32,452.70 355.28,451.96 360.23,451.18 365.18,448.32 370.13,445.20 375.08,445.38 380.04,444.59 384.99,443.17 389.94,441.91 394.89,440.44 399.84,438.58 404.80,433.26 409.75,427.65 414.70,423.13 419.65,417.20 424.60,411.40 429.56,403.91 434.51,398.26 439.46,392.46 444.41,389.11 449.36,388.46 454.32,389.83 459.27,393.17 464.22,398.62 469.17,405.01 474.12,411.02 479.08,418.01 484.03,426.98 488.98,434.71 493.93,441.73 498.88,445.80 503.84,450.33 508.79,453.24 513.74,455.13 518.69,455.59 523.64,455.18 528.60,452.44 533.55,449.88 538.50,445.50" fill="none" stroke="#111" stroke-width="1.2" stroke-linejoin="round" stroke-linecap="round" />
<g fill="#fff" stroke="#777" stroke-width="1.0"><circle cx="290.90" cy="456.17" r="2.0"/><circle cx="295.85" cy="456.95" r="2.0"/><circle cx="300.80" cy="457.06" r="2.0"/><circle cx="305.76" cy="455.92" r="2.0"/><circle cx="310.71" cy="456.42" r="2.0"/><circle cx="315.66" cy="457.00" r="2.0"/><circle cx="320.61" cy="455.90" r="2.0"/><circle cx="325.56" cy="456.60" r="2.0"/><circle cx="330.52" cy="452.90" r="2.0"/><circle cx="335.47" cy="453.60" r="2.0"/><circle cx="340.42" cy="452.87" r="2.0"/><circle cx="345.37" cy="452.20" r="2.0"/><circle cx="350.32" cy="452.70" r="2.0"/><circle cx="355.28" cy="451.96" r="2.0"/><circle cx="360.23" cy="451.18" r="2.0"/><circle cx="365.18" cy="448.32" r="2.0"/><circle cx="370.13" cy="445.20" r="2.0"/><circle cx="375.08" cy="445.38" r="2.0"/><circle cx="380.04" cy="444.59" r="2.0"/><circle cx="384.99" cy="443.17" r="2.0"/><circle cx="389.94" cy="441.91" r="2.0"/><circle cx="394.89" cy="440.44" r="2.0"/><circle cx="399.84" cy="438.58" r="2.0"/><circle cx="404.80" cy="433.26" r="2.0"/><circle cx="409.75" cy="427.65" r="2.0"/><circle cx="414.70" cy="423.13" r="2.0"/><circle cx="419.65" cy="417.20" r="2.0"/><circle cx="424.60" cy="411.40" r="2.0"/><circle cx="429.56" cy="403.91" r="2.0"/><circle cx="434.51" cy="398.26" r="2.0"/><circle cx="439.46" cy="392.46" r="2.0"/><circle cx="444.41" cy="389.11" r="2.0"/><circle cx="449.36" cy="388.46" r="2.0"/><circle cx="454.32" cy="389.83" r="2.0"/><circle cx="459.27" cy="393.17" r="2.0"/><circle cx="464.22" cy="398.62" r="2.0"/><circle cx="469.17" cy="405.01" r="2.0"/><circle cx="474.12" cy="411.02" r="2.0"/><circle cx="479.08" cy="418.01" r="2.0"/><circle cx="484.03" cy="426.98" r="2.0"/><circle cx="488.98" cy="434.71" r="2.0"/><circle cx="493.93" cy="441.73" r="2.0"/><circle cx="498.88" cy="445.80" r="2.0"/><circle cx="503.84" cy="450.33" r="2.0"/><circle cx="508.79" cy="453.24" r="2.0"/><circle cx="513.74" cy="455.13" r="2.0"/><circle cx="518.69" cy="455.59" r="2.0"/><circle cx="523.64" cy="455.18" r="2.0"/><circle cx="528.60" cy="452.44" r="2.0"/><circle cx="533.55" cy="449.88" r="2.0"/><circle cx="538.50" cy="445.50" r="2.0"/></g>
<line x1="290.90" y1="460.75" x2="372.00" y2="460.75" stroke="#22dd22" stroke-width="1.5" />
<line x1="366.00" y1="460.75" x2="500.00" y2="460.75" stroke="#dd2020" stroke-width="1.5" />
<line x1="495.00" y1="460.75" x2="538.50" y2="460.75" stroke="#2020cc" stroke-width="1.5" />
<path d="M368.39,460.59 L368.80,460.58 L369.21,460.57 L369.62,460.55 L370.03,460.54 L370.44,460.52 L370.86,460.51 L371.27,460.49 L371.68,460.48 L372.09,460.46 L372.50,460.44 L372.91,460.42 L373.33,460.40 L373.74,460.37 L374.15,460.35 L374.56,460.32 L374.97,460.30 L375.38,460.27 L375.80,460.24 L376.21,460.21 L376.62,460.18 L377.03,460.14 L377.44,460.10 L377.85,460.06 L378.27,460.02 L378.68,459.98 L379.09,459.94 L379.50,459.89 L379.91,459.84 L380.32,459.79 L380.74,459.73 L381.15,459.67 L381.56,459.61 L381.97,459.55 L382.38,459.48 L382.79,459.41 L383.21,459.34 L383.62,459.26 L384.03,459.18 L384.44,459.10 L384.85,459.01 L385.26,458.92 L385.68,458.83 L386.09,458.73 L386.50,458.62 L386.91,458.51 L387.32,458.40 L387.73,458.28 L388.15,458.16 L388.56,458.03 L388.97,457.90 L389.38,457.76 L389.79,457.62 L390.20,457.47 L390.62,457.32 L391.03,457.16 L391.44,456.99 L391.85,456.82 L392.26,456.64 L392.67,456.45 L393.09,456.26 L393.50,456.06 L393.91,455.86 L394.32,455.65 L394.73,455.43 L395.14,455.20 L395.56,454.96 L395.97,454.72 L396.38,454.47 L396.79,454.21 L397.20,453.95 L397.62,453.67 L398.03,453.39 L398.44,453.10 L398.85,452.80 L399.26,452.49 L399.67,452.17 L400.09,451.85 L400.50,451.51 L400.91,451.17 L401.32,450.82 L401.73,450.45 L402.14,450.08 L402.56,449.70 L402.97,449.31 L403.38,448.91 L403.79,448.50 L404.20,448.09 L404.61,447.66 L405.03,447.22 L405.44,446.78 L405.85,446.32 L406.26,445.85 L406.67,445.38 L407.08,444.89 L407.50,444.40 L407.91,443.90 L408.32,443.39 L408.73,442.86 L409.14,442.33 L409.55,441.80 L409.97,441.25 L410.38,440.69 L410.79,440.13 L411.20,439.55 L411.61,438.97 L412.02,438.38 L412.44,437.78 L412.85,437.18 L413.26,436.56 L413.67,435.94 L414.08,435.32 L414.49,434.68 L414.91,434.04 L415.32,433.40 L415.73,432.74 L416.14,432.09 L416.55,431.42 L416.96,430.75 L417.38,430.08 L417.79,429.40 L418.20,428.72 L418.61,428.04 L419.02,427.35 L419.43,426.66 L419.85,425.96 L420.26,425.26 L420.67,424.57 L421.08,423.87 L421.49,423.17 L421.90,422.46 L422.32,421.76 L422.73,421.06 L423.14,420.36 L423.55,419.66 L423.96,418.96 L424.37,418.27 L424.79,417.57 L425.20,416.88 L425.61,416.20 L426.02,415.51 L426.43,414.83 L426.84,414.16 L427.26,413.49 L427.67,412.83 L428.08,412.17 L428.49,411.52 L428.90,410.87 L429.31,410.24 L429.73,409.61 L430.14,408.98 L430.55,408.37 L430.96,407.77 L431.37,407.17 L431.78,406.59 L432.20,406.01 L432.61,405.45 L433.02,404.90 L433.43,404.36 L433.84,403.83 L434.26,403.31 L434.67,402.80 L435.08,402.31 L435.49,401.83 L435.90,401.36 L436.31,400.91 L436.73,400.47 L437.14,400.04 L437.55,399.63 L437.96,399.23 L438.37,398.85 L438.78,398.48 L439.20,398.13 L439.61,397.79 L440.02,397.46 L440.43,397.16 L440.84,396.86 L441.25,396.59 L441.67,396.32 L442.08,396.08 L442.49,395.85 L442.90,395.63 L443.31,395.43 L443.72,395.24 L444.14,395.07 L444.55,394.92 L444.96,394.78 L445.37,394.65 L445.78,394.54 L446.19,394.44 L446.61,394.36 L447.02,394.29 L447.43,394.24 L447.84,394.19 L448.25,394.16 L448.66,394.14 L449.08,394.13 L449.49,394.13 L449.90,394.13 L450.31,394.14 L450.72,394.16 L451.13,394.19 L451.55,394.22 L451.96,394.26 L452.37,394.32 L452.78,394.38 L453.19,394.46 L453.60,394.54 L454.02,394.64 L454.43,394.74 L454.84,394.86 L455.25,394.99 L455.66,395.13 L456.07,395.29 L456.49,395.46 L456.90,395.63 L457.31,395.83 L457.72,396.03 L458.13,396.25 L458.54,396.48 L458.96,396.72 L459.37,396.97 L459.78,397.24 L460.19,397.52 L460.60,397.81 L461.01,398.11 L461.43,398.43 L461.84,398.76 L462.25,399.10 L462.66,399.46 L463.07,399.82 L463.48,400.20 L463.90,400.59 L464.31,400.99 L464.72,401.40 L465.13,401.83 L465.54,402.27 L465.95,402.71 L466.37,403.17 L466.78,403.64 L467.19,404.12 L467.60,404.61 L468.01,405.10 L468.43,405.61 L468.84,406.13 L469.25,406.66 L469.66,407.19 L470.07,407.74 L470.48,408.29 L470.90,408.85 L471.31,409.42 L471.72,409.99 L472.13,410.58 L472.54,411.17 L472.95,411.76 L473.37,412.36 L473.78,412.97 L474.19,413.58 L474.60,414.20 L475.01,414.82 L475.42,415.45 L475.84,416.08 L476.25,416.71 L476.66,417.35 L477.07,417.99 L477.48,418.63 L477.89,419.28 L478.31,419.93 L478.72,420.57 L479.13,421.22 L479.54,421.87 L479.95,422.53 L480.36,423.18 L480.78,423.83 L481.19,424.48 L481.60,425.13 L482.01,425.77 L482.42,426.42 L482.83,427.07 L483.25,427.71 L483.66,428.35 L484.07,428.99 L484.48,429.62 L484.89,430.25 L485.30,430.88 L485.72,431.50 L486.13,432.12 L486.54,432.73 L486.95,433.34 L487.36,433.95 L487.77,434.55 L488.19,435.14 L488.60,435.73 L489.01,436.31 L489.42,436.89 L489.83,437.46 L490.24,438.02 L490.66,438.58 L491.07,439.13 L491.48,439.68 L491.89,440.21 L492.30,440.74 L492.71,441.26 L493.13,441.78 L493.54,442.28 L493.95,442.78 L494.36,443.28 L494.77,443.76 L495.18,444.23 L495.60,444.70 L496.01,445.16 L496.42,445.61 L496.83,446.05 L497.24,446.49 L497.65,446.92 L498.07,447.33 L498.48,447.74 L498.89,448.15 L499.30,448.54 L499.71,448.92 L500.12,449.30 L500.54,449.67 L500.95,450.03 L501.36,450.38 L501.77,450.72 L502.18,451.06 L502.59,451.39 L503.01,451.71 L503.42,452.02 L503.83,452.32 L504.24,452.62 L504.65,452.91 L505.07,453.19 L505.48,453.46 L505.89,453.73 L506.30,453.99 L506.71,454.24 L507.12,454.48 L507.54,454.72 L507.95,454.95 L508.36,455.17 L508.77,455.39 L509.18,455.60 L509.59,455.80 L510.01,456.00 L510.42,456.19 L510.83,456.37 L511.24,456.55 L511.65,456.73 L512.06,456.89 L512.48,457.05 L512.89,457.21 L513.30,457.36 L513.71,457.51 L514.12,457.65 L514.53,457.78 L514.95,457.91 L515.36,458.04 L515.77,458.16 L516.18,458.28 L516.59,458.39 L517.00,458.50 L517.42,458.60 L517.83,458.70 L518.24,458.80 L518.65,458.89 L519.06,458.98 L519.47,459.06 L519.89,459.14 L520.30,459.22 L520.71,459.29 L521.12,459.37 L521.53,459.44 L521.94,459.50 L522.36,459.56 L522.77,459.62 L523.18,459.68 L523.59,459.74 L524.00,459.79 L524.41,459.84 L524.83,459.89 L525.24,459.93 L525.65,459.98 L526.06,460.02 L526.47,460.06 L526.88,460.09 L527.30,460.13 L527.71,460.16 L528.12,460.20 L528.53,460.23 L528.94,460.26 L529.35,460.28 L529.77,460.31 L530.18,460.34 L530.59,460.36 L531.00,460.38 L531.41,460.40 L531.82,460.42 L532.24,460.44 L532.65,460.46 L533.06,460.48 L533.47,460.49 L533.88,460.51 L534.29,460.52 L534.71,460.54 L535.12,460.55 L535.53,460.56 L535.94,460.58 L536.35,460.59 L536.76,460.60 L537.18,460.61 L537.59,460.62 L538.00,460.62" fill="none" stroke="#22dd22" stroke-width="1.5" stroke-linejoin="round" />
<path d="M490.24,460.37 L490.66,460.37 L491.07,460.37 L491.48,460.36 L491.89,460.36 L492.30,460.36 L492.71,460.36 L493.13,460.36 L493.54,460.36 L493.95,460.35 L494.36,460.35 L494.77,460.35 L495.18,460.34 L495.60,460.31 L496.01,460.27 L496.42,460.24 L496.83,460.21 L497.24,460.18 L497.65,460.15 L498.07,460.12 L498.48,460.09 L498.89,460.06 L499.30,460.03 L499.71,460.00 L500.12,459.97 L500.54,459.93 L500.95,459.90 L501.36,459.87 L501.77,459.84 L502.18,459.81 L502.59,459.78 L503.01,459.75 L503.42,459.67 L503.83,459.58 L504.24,459.50 L504.65,459.42 L505.07,459.34 L505.48,459.25 L505.89,459.17 L506.30,459.09 L506.71,459.01 L507.12,458.93 L507.54,458.84 L507.95,458.76 L508.36,458.68 L508.77,458.60 L509.18,458.51 L509.59,458.43 L510.01,458.35 L510.42,458.22 L510.83,458.09 L511.24,457.96 L511.65,457.84 L512.06,457.71 L512.48,457.58 L512.89,457.45 L513.30,457.32 L513.71,457.20 L514.12,457.07 L514.53,456.94 L514.95,456.81 L515.36,456.68 L515.77,456.56 L516.18,456.43 L516.59,456.30 L517.00,456.17 L517.42,456.04 L517.83,455.87 L518.24,455.70 L518.65,455.53 L519.06,455.36 L519.47,455.19 L519.89,455.01 L520.30,454.84 L520.71,454.67 L521.12,454.50 L521.53,454.33 L521.94,454.16 L522.36,453.99 L522.77,453.81 L523.18,453.64 L523.59,453.47 L524.00,453.30 L524.41,453.13 L524.83,452.96 L525.24,452.78 L525.65,452.61 L526.06,452.44 L526.47,452.27 L526.88,452.10 L527.30,451.92 L527.71,451.73 L528.12,451.55 L528.53,451.36 L528.94,451.18 L529.35,450.99 L529.77,450.81 L530.18,450.62 L530.59,450.43 L531.00,450.25 L531.41,450.06 L531.82,449.88 L532.24,449.69 L532.65,449.51 L533.06,449.32 L533.47,449.09 L533.88,448.87 L534.29,448.64 L534.71,448.42 L535.12,448.19 L535.53,447.97 L535.94,447.75 L536.35,447.52 L536.76,447.30 L537.18,447.07 L537.59,446.85 L538.00,446.62" fill="none" stroke="#dd2020" stroke-width="1.5" stroke-linejoin="round" />
<path d="M291.40,459.86 L291.81,459.84 L292.22,459.81 L292.64,459.79 L293.05,459.77 L293.46,459.75 L293.87,459.72 L294.28,459.70 L294.69,459.67 L295.11,459.65 L295.52,459.62 L295.93,459.60 L296.34,459.57 L296.75,459.54 L297.16,459.52 L297.58,459.49 L297.99,459.46 L298.40,459.43 L298.81,459.40 L299.22,459.37 L299.63,459.34 L300.05,459.31 L300.46,459.28 L300.87,459.25 L301.28,459.21 L301.69,459.18 L302.10,459.15 L302.52,459.11 L302.93,459.08 L303.34,459.04 L303.75,459.01 L304.16,458.97 L304.57,458.93 L304.99,458.90 L305.40,458.86 L305.81,458.82 L306.22,458.78 L306.63,458.74 L307.04,458.70 L307.46,458.66 L307.87,458.61 L308.28,458.57 L308.69,458.53 L309.10,458.48 L309.51,458.44 L309.93,458.39 L310.34,458.35 L310.75,458.30 L311.16,458.25 L311.57,458.21 L311.98,458.16 L312.40,458.11 L312.81,458.06 L313.22,458.01 L313.63,457.96 L314.04,457.91 L314.45,457.85 L314.87,457.80 L315.28,457.75 L315.69,457.69 L316.10,457.64 L316.51,457.58 L316.92,457.52 L317.34,457.47 L317.75,457.41 L318.16,457.35 L318.57,457.29 L318.98,457.23 L319.39,457.17 L319.81,457.11 L320.22,457.05 L320.63,456.98 L321.04,456.92 L321.45,456.86 L321.86,456.79 L322.28,456.73 L322.69,456.66 L323.10,456.59 L323.51,456.53 L323.92,456.46 L324.33,456.39 L324.75,456.32 L325.16,456.25 L325.57,456.18 L325.98,456.11 L326.39,456.04 L326.81,455.96 L327.22,455.89 L327.63,455.82 L328.04,455.74 L328.45,455.67 L328.86,455.59 L329.28,455.51 L329.69,455.44 L330.10,455.36 L330.51,455.28 L330.92,455.20 L331.33,455.12 L331.75,455.04 L332.16,454.96 L332.57,454.88 L332.98,454.80 L333.39,454.72 L333.80,454.64 L334.22,454.55 L334.63,454.47 L335.04,454.39 L335.45,454.30 L335.86,454.22 L336.27,454.13 L336.69,454.04 L337.10,453.96 L337.51,453.87 L337.92,453.78 L338.33,453.70 L338.74,453.61 L339.16,453.52 L339.57,453.43 L339.98,453.34 L340.39,453.25 L340.80,453.16 L341.21,453.07 L341.63,452.98 L342.04,452.89 L342.45,452.80 L342.86,452.71 L343.27,452.62 L343.68,452.53 L344.10,452.43 L344.51,452.34 L344.92,452.25 L345.33,452.16 L345.74,452.06 L346.15,451.97 L346.57,451.88 L346.98,451.79 L347.39,451.69 L347.80,451.60 L348.21,451.51 L348.62,451.41 L349.04,451.32 L349.45,451.23 L349.86,451.13 L350.27,451.04 L350.68,450.95 L351.09,450.86 L351.51,450.76 L351.92,450.67 L352.33,450.58 L352.74,450.49 L353.15,450.39 L353.56,450.30 L353.98,450.21 L354.39,450.12 L354.80,450.03 L355.21,449.94 L355.62,449.85 L356.03,449.76 L356.45,449.67 L356.86,449.58 L357.27,449.49 L357.68,449.40 L358.09,449.31 L358.50,449.23 L358.92,449.14 L359.33,449.05 L359.74,448.97 L360.15,448.88 L360.56,448.79 L360.97,448.71 L361.39,448.63 L361.80,448.54 L362.21,448.46 L362.62,448.38 L363.03,448.30 L363.45,448.22 L363.86,448.14 L364.27,448.06 L364.68,447.98 L365.09,447.90 L365.50,447.83 L365.92,447.75 L366.33,447.68 L366.74,447.60 L367.15,447.53 L367.56,447.46 L367.97,447.39 L368.39,447.32 L368.80,447.25 L369.21,447.18 L369.62,447.11 L370.03,447.05 L370.44,446.98 L370.86,446.92 L371.27,446.85 L371.68,446.79 L372.09,446.73 L372.50,446.67 L372.91,446.61 L373.33,446.56 L373.74,446.50 L374.15,446.44 L374.56,446.39 L374.97,446.34 L375.38,446.29 L375.80,446.24 L376.21,446.19 L376.62,446.14 L377.03,446.09 L377.44,446.05 L377.85,446.01 L378.27,445.96 L378.68,445.92 L379.09,445.88 L379.50,445.85 L379.91,445.81 L380.32,445.77 L380.74,445.74 L381.15,445.71 L381.56,445.68 L381.97,445.65 L382.38,445.62 L382.79,445.59 L383.21,445.57 L383.62,445.54 L384.03,445.52 L384.44,445.50 L384.85,445.48 L385.26,445.46 L385.68,445.45 L386.09,445.43 L386.50,445.42 L386.91,445.41 L387.32,445.40 L387.73,445.39 L388.15,445.38 L388.56,445.38 L388.97,445.37 L389.38,445.37 L389.79,445.37 L390.20,445.37 L390.62,445.37 L391.03,445.38 L391.44,445.38 L391.85,445.39 L392.26,445.40 L392.67,445.41 L393.09,445.42 L393.50,445.43 L393.91,445.44 L394.32,445.46 L394.73,445.48 L395.14,445.50 L395.56,445.52 L395.97,445.54 L396.38,445.56 L396.79,445.59 L397.20,445.61 L397.62,445.64 L398.03,445.67 L398.44,445.70 L398.85,445.73 L399.26,445.76 L399.67,445.80 L400.09,445.84 L400.50,445.87 L400.91,445.91 L401.32,445.95 L401.73,445.99 L402.14,446.04 L402.56,446.08 L402.97,446.13 L403.38,446.17 L403.79,446.22 L404.20,446.27 L404.61,446.32 L405.03,446.38 L405.44,446.43 L405.85,446.48 L406.26,446.54 L406.67,446.60 L407.08,446.65 L407.50,446.71 L407.91,446.77 L408.32,446.84 L408.73,446.90 L409.14,446.96 L409.55,447.03 L409.97,447.09 L410.38,447.16 L410.79,447.23 L411.20,447.30 L411.61,447.37 L412.02,447.44 L412.44,447.51 L412.85,447.58 L413.26,447.66 L413.67,447.73 L414.08,447.81 L414.49,447.88 L414.91,447.96 L415.32,448.04 L415.73,448.12 L416.14,448.20 L416.55,448.28 L416.96,448.36 L417.38,448.44 L417.79,448.52 L418.20,448.60 L418.61,448.69 L419.02,448.77 L419.43,448.86 L419.85,448.94 L420.26,449.03 L420.67,449.11 L421.08,449.20 L421.49,449.29 L421.90,449.38 L422.32,449.46 L422.73,449.55 L423.14,449.64 L423.55,449.73 L423.96,449.82 L424.37,449.91 L424.79,450.00 L425.20,450.09 L425.61,450.19 L426.02,450.28 L426.43,450.37 L426.84,450.46 L427.26,450.55 L427.67,450.65 L428.08,450.74 L428.49,450.83 L428.90,450.92 L429.31,451.02 L429.73,451.11 L430.14,451.20 L430.55,451.29 L430.96,451.39 L431.37,451.48 L431.78,451.57 L432.20,451.67 L432.61,451.76 L433.02,451.85 L433.43,451.95 L433.84,452.04 L434.26,452.13 L434.67,452.22 L435.08,452.32 L435.49,452.41 L435.90,452.50 L436.31,452.59 L436.73,452.68 L437.14,452.77 L437.55,452.87 L437.96,452.96 L438.37,453.05 L438.78,453.14 L439.20,453.23 L439.61,453.32 L440.02,453.41 L440.43,453.50 L440.84,453.58 L441.25,453.67 L441.67,453.76 L442.08,453.85 L442.49,453.93 L442.90,454.02 L443.31,454.11 L443.72,454.19 L444.14,454.28 L444.55,454.36 L444.96,454.45 L445.37,454.53 L445.78,454.61 L446.19,454.70 L446.61,454.78 L447.02,454.86 L447.43,454.94 L447.84,455.02 L448.25,455.10 L448.66,455.18 L449.08,455.26 L449.49,455.34 L449.90,455.42 L450.31,455.49 L450.72,455.57 L451.13,455.65 L451.55,455.72 L451.96,455.80 L452.37,455.87 L452.78,455.94 L453.19,456.02 L453.60,456.09 L454.02,456.16 L454.43,456.23 L454.84,456.30 L455.25,456.37 L455.66,456.44 L456.07,456.51 L456.49,456.58 L456.90,456.64 L457.31,456.71 L457.72,456.77 L458.13,456.84 L458.54,456.90 L458.96,456.97 L459.37,457.03 L459.78,457.09 L460.19,457.15 L460.60,457.21 L461.01,457.27 L461.43,457.33 L461.84,457.39 L462.25,457.45 L462.66,457.51 L463.07,457.57 L463.48,457.62 L463.90,457.68 L464.31,457.73 L464.72,457.79 L465.13,457.84 L465.54,457.89 L465.95,457.94 L466.37,457.99 L466.78,458.05 L467.19,458.10 L467.60,458.14 L468.01,458.19 L468.43,458.24 L468.84,458.29 L469.25,458.34 L469.66,458.38 L470.07,458.43 L470.48,458.47 L470.90,458.52 L471.31,458.56 L471.72,458.60 L472.13,458.64 L472.54,458.69 L472.95,458.73 L473.37,458.77 L473.78,458.81 L474.19,458.85 L474.60,458.88 L475.01,458.92 L475.42,458.96 L475.84,459.00 L476.25,459.03 L476.66,459.07 L477.07,459.10 L477.48,459.14 L477.89,459.17 L478.31,459.21 L478.72,459.24 L479.13,459.27 L479.54,459.30 L479.95,459.33 L480.36,459.36 L480.78,459.39 L481.19,459.42 L481.60,459.45 L482.01,459.48 L482.42,459.51 L482.83,459.54 L483.25,459.56 L483.66,459.59 L484.07,459.62 L484.48,459.64 L484.89,459.67 L485.30,459.69 L485.72,459.72 L486.13,459.74 L486.54,459.76 L486.95,459.79 L487.36,459.81 L487.77,459.83 L488.19,459.85 L488.60,459.87 L489.01,459.89 L489.42,459.91 L489.83,459.93 L490.24,459.95 L490.66,459.97 L491.07,459.99 L491.48,460.01 L491.89,460.03 L492.30,460.05 L492.71,460.06 L493.13,460.08 L493.54,460.10 L493.95,460.11 L494.36,460.13 L494.77,460.14 L495.18,460.16 L495.60,460.17 L496.01,460.19 L496.42,460.20 L496.83,460.22 L497.24,460.23 L497.65,460.24 L498.07,460.26 L498.48,460.27 L498.89,460.28 L499.30,460.29 L499.71,460.31 L500.12,460.32 L500.54,460.33 L500.95,460.34 L501.36,460.35 L501.77,460.36 L502.18,460.37 L502.59,460.38 L503.01,460.39 L503.42,460.40 L503.83,460.41 L504.24,460.42 L504.65,460.43" fill="none" stroke="#2020cc" stroke-width="1.5" stroke-linejoin="round" />
<path d="M291.40,459.56 L291.81,459.54 L292.22,459.51 L292.64,459.49 L293.05,459.47 L293.46,459.45 L293.87,459.42 L294.28,459.40 L294.69,459.37 L295.11,459.35 L295.52,459.32 L295.93,459.30 L296.34,459.27 L296.75,459.24 L297.16,459.22 L297.58,459.19 L297.99,459.16 L298.40,459.13 L298.81,459.10 L299.22,459.07 L299.63,459.04 L300.05,459.01 L300.46,458.98 L300.87,458.95 L301.28,458.91 L301.69,458.88 L302.10,458.85 L302.52,458.81 L302.93,458.78 L303.34,458.74 L303.75,458.71 L304.16,458.67 L304.57,458.63 L304.99,458.60 L305.40,458.56 L305.81,458.52 L306.22,458.48 L306.63,458.44 L307.04,458.40 L307.46,458.36 L307.87,458.31 L308.28,458.27 L308.69,458.23 L309.10,458.18 L309.51,458.14 L309.93,458.09 L310.34,458.05 L310.75,458.00 L311.16,457.95 L311.57,457.91 L311.98,457.86 L312.40,457.81 L312.81,457.76 L313.22,457.71 L313.63,457.66 L314.04,457.61 L314.45,457.55 L314.87,457.50 L315.28,457.45 L315.69,457.39 L316.10,457.34 L316.51,457.28 L316.92,457.22 L317.34,457.17 L317.75,457.11 L318.16,457.05 L318.57,456.99 L318.98,456.93 L319.39,456.87 L319.81,456.81 L320.22,456.75 L320.63,456.68 L321.04,456.62 L321.45,456.56 L321.86,456.49 L322.28,456.43 L322.69,456.36 L323.10,456.29 L323.51,456.23 L323.92,456.16 L324.33,456.09 L324.75,456.02 L325.16,455.95 L325.57,455.88 L325.98,455.81 L326.39,455.74 L326.81,455.66 L327.22,455.59 L327.63,455.52 L328.04,455.44 L328.45,455.37 L328.86,455.29 L329.28,455.21 L329.69,455.14 L330.10,455.06 L330.51,454.98 L330.92,454.90 L331.33,454.82 L331.75,454.74 L332.16,454.66 L332.57,454.58 L332.98,454.50 L333.39,454.42 L333.80,454.33 L334.22,454.25 L334.63,454.17 L335.04,454.08 L335.45,454.00 L335.86,453.91 L336.27,453.83 L336.69,453.74 L337.10,453.65 L337.51,453.57 L337.92,453.48 L338.33,453.39 L338.74,453.30 L339.16,453.21 L339.57,453.13 L339.98,453.04 L340.39,452.95 L340.80,452.86 L341.21,452.77 L341.63,452.67 L342.04,452.58 L342.45,452.49 L342.86,452.40 L343.27,452.31 L343.68,452.22 L344.10,452.12 L344.51,452.03 L344.92,451.94 L345.33,451.84 L345.74,451.75 L346.15,451.66 L346.57,451.56 L346.98,451.47 L347.39,451.37 L347.80,451.28 L348.21,451.19 L348.62,451.09 L349.04,451.00 L349.45,450.90 L349.86,450.81 L350.27,450.71 L350.68,450.62 L351.09,450.52 L351.51,450.43 L351.92,450.33 L352.33,450.24 L352.74,450.14 L353.15,450.05 L353.56,449.96 L353.98,449.86 L354.39,449.77 L354.80,449.67 L355.21,449.58 L355.62,449.48 L356.03,449.39 L356.45,449.30 L356.86,449.20 L357.27,449.11 L357.68,449.02 L358.09,448.92 L358.50,448.83 L358.92,448.74 L359.33,448.64 L359.74,448.55 L360.15,448.46 L360.56,448.37 L360.97,448.28 L361.39,448.18 L361.80,448.09 L362.21,448.00 L362.62,447.91 L363.03,447.82 L363.45,447.73 L363.86,447.64 L364.27,447.55 L364.68,447.46 L365.09,447.37 L365.50,447.28 L365.92,447.19 L366.33,447.10 L366.74,447.01 L367.15,446.92 L367.56,446.84 L367.97,446.75 L368.39,446.66 L368.80,446.57 L369.21,446.48 L369.62,446.39 L370.03,446.31 L370.44,446.22 L370.86,446.13 L371.27,446.04 L371.68,445.95 L372.09,445.87 L372.50,445.78 L372.91,445.69 L373.33,445.60 L373.74,445.51 L374.15,445.42 L374.56,445.33 L374.97,445.25 L375.38,445.16 L375.80,445.07 L376.21,444.97 L376.62,444.88 L377.03,444.79 L377.44,444.70 L377.85,444.61 L378.27,444.51 L378.68,444.42 L379.09,444.32 L379.50,444.23 L379.91,444.13 L380.32,444.03 L380.74,443.93 L381.15,443.83 L381.56,443.73 L381.97,443.63 L382.38,443.52 L382.79,443.42 L383.21,443.31 L383.62,443.20 L384.03,443.09 L384.44,442.98 L384.85,442.87 L385.26,442.75 L385.68,442.63 L386.09,442.51 L386.50,442.39 L386.91,442.27 L387.32,442.14 L387.73,442.01 L388.15,441.88 L388.56,441.74 L388.97,441.61 L389.38,441.47 L389.79,441.32 L390.20,441.18 L390.62,441.03 L391.03,440.87 L391.44,440.72 L391.85,440.56 L392.26,440.40 L392.67,440.23 L393.09,440.06 L393.50,439.88 L393.91,439.70 L394.32,439.52 L394.73,439.33 L395.14,439.14 L395.56,438.95 L395.97,438.74 L396.38,438.54 L396.79,438.33 L397.20,438.11 L397.62,437.89 L398.03,437.67 L398.44,437.44 L398.85,437.20 L399.26,436.96 L399.67,436.71 L400.09,436.46 L400.50,436.20 L400.91,435.94 L401.32,435.67 L401.73,435.40 L402.14,435.11 L402.56,434.83 L402.97,434.53 L403.38,434.23 L403.79,433.93 L404.20,433.61 L404.61,433.29 L405.03,432.97 L405.44,432.64 L405.85,432.30 L406.26,431.95 L406.67,431.60 L407.08,431.24 L407.50,430.88 L407.91,430.51 L408.32,430.13 L408.73,429.74 L409.14,429.35 L409.55,428.95 L409.97,428.55 L410.38,428.13 L410.79,427.72 L411.20,427.29 L411.61,426.86 L412.02,426.42 L412.44,425.98 L412.85,425.53 L413.26,425.07 L413.67,424.61 L414.08,424.14 L414.49,423.66 L414.91,423.18 L415.32,422.70 L415.73,422.20 L416.14,421.71 L416.55,421.20 L416.96,420.70 L417.38,420.18 L417.79,419.66 L418.20,419.14 L418.61,418.61 L419.02,418.08 L419.43,417.55 L419.85,417.01 L420.26,416.46 L420.67,415.92 L421.08,415.37 L421.49,414.81 L421.90,414.26 L422.32,413.70 L422.73,413.14 L423.14,412.58 L423.55,412.01 L423.96,411.45 L424.37,410.88 L424.79,410.32 L425.20,409.75 L425.61,409.18 L426.02,408.61 L426.43,408.05 L426.84,407.48 L427.26,406.92 L427.67,406.35 L428.08,405.79 L428.49,405.23 L428.90,404.68 L429.31,404.13 L429.73,403.58 L430.14,403.03 L430.55,402.49 L430.96,401.95 L431.37,401.42 L431.78,400.89 L432.20,400.37 L432.61,399.85 L433.02,399.34 L433.43,398.84 L433.84,398.34 L434.26,397.86 L434.67,397.38 L435.08,396.91 L435.49,396.44 L435.90,395.99 L436.31,395.54 L436.73,395.11 L437.14,394.69 L437.55,394.27 L437.96,393.87 L438.37,393.48 L438.78,393.10 L439.20,392.73 L439.61,392.37 L440.02,392.03 L440.43,391.70 L440.84,391.38 L441.25,391.08 L441.67,390.79 L442.08,390.52 L442.49,390.26 L442.90,390.01 L443.31,389.78 L443.72,389.56 L444.14,389.36 L444.55,389.18 L444.96,389.01 L445.37,388.86 L445.78,388.72 L446.19,388.61 L446.61,388.50 L447.02,388.42 L447.43,388.35 L447.84,388.30 L448.25,388.27 L448.66,388.25 L449.08,388.26 L449.49,388.28 L449.90,388.32 L450.31,388.38 L450.72,388.45 L451.13,388.53 L451.55,388.63 L451.96,388.73 L452.37,388.84 L452.78,388.96 L453.19,389.09 L453.60,389.24 L454.02,389.39 L454.43,389.56 L454.84,389.74 L455.25,389.93 L455.66,390.13 L456.07,390.34 L456.49,390.57 L456.90,390.81 L457.31,391.06 L457.72,391.33 L458.13,391.60 L458.54,391.89 L458.96,392.19 L459.37,392.51 L459.78,392.83 L460.19,393.17 L460.60,393.53 L461.01,393.89 L461.43,394.26 L461.84,394.65 L462.25,395.05 L462.66,395.46 L463.07,395.89 L463.48,396.32 L463.90,396.77 L464.31,397.22 L464.72,397.69 L465.13,398.17 L465.54,398.66 L465.95,399.16 L466.37,399.67 L466.78,400.19 L467.19,400.72 L467.60,401.26 L468.01,401.80 L468.43,402.36 L468.84,402.93 L469.25,403.50 L469.66,404.08 L470.07,404.67 L470.48,405.26 L470.90,405.86 L471.31,406.47 L471.72,407.09 L472.13,407.71 L472.54,408.33 L472.95,408.97 L473.37,409.60 L473.78,410.25 L474.19,410.89 L474.60,411.54 L475.01,412.20 L475.42,412.85 L475.84,413.52 L476.25,414.18 L476.66,414.84 L477.07,415.51 L477.48,416.18 L477.89,416.85 L478.31,417.53 L478.72,418.20 L479.13,418.87 L479.54,419.55 L479.95,420.22 L480.36,420.89 L480.78,421.56 L481.19,422.23 L481.60,422.90 L482.01,423.57 L482.42,424.23 L482.83,424.90 L483.25,425.56 L483.66,426.21 L484.07,426.87 L484.48,427.52 L484.89,428.16 L485.30,428.80 L485.72,429.44 L486.13,430.08 L486.54,430.70 L486.95,431.33 L487.36,431.95 L487.77,432.56 L488.19,433.17 L488.60,433.77 L489.01,434.36 L489.42,434.95 L489.83,435.53 L490.24,436.11 L490.66,436.68 L491.07,437.24 L491.48,437.80 L491.89,438.35 L492.30,438.89 L492.71,439.42 L493.13,439.95 L493.54,440.47 L493.95,440.98 L494.36,441.48 L494.77,441.97 L495.18,442.45 L495.60,442.90 L496.01,443.34 L496.42,443.77 L496.83,444.20 L497.24,444.62 L497.65,445.03 L498.07,445.43 L498.48,445.82 L498.89,446.21 L499.30,446.58 L499.71,446.95 L500.12,447.31 L500.54,447.67 L500.95,448.01 L501.36,448.35 L501.77,448.67 L502.18,448.99 L502.59,449.31 L503.01,449.61 L503.42,449.86 L503.83,450.09 L504.24,450.32 L504.65,450.54 L505.07,450.76 L505.48,450.97 L505.89,451.17 L506.30,451.36 L506.71,451.54 L507.12,451.72 L507.54,451.89 L507.95,452.06 L508.36,452.21 L508.77,452.36 L509.18,452.51 L509.59,452.65 L510.01,452.78 L510.42,452.86 L510.83,452.93 L511.24,453.00 L511.65,453.06 L512.06,453.11 L512.48,453.16 L512.89,453.21 L513.30,453.25 L513.71,453.28 L514.12,453.31 L514.53,453.33 L514.95,453.35 L515.36,453.36 L515.77,453.37 L516.18,453.37 L516.59,453.37 L517.00,453.37 L517.42,453.35 L517.83,453.30 L518.24,453.23 L518.65,453.17 L519.06,453.10 L519.47,453.03 L519.89,452.95 L520.30,452.87 L520.71,452.79 L521.12,452.70 L521.53,452.61 L521.94,452.51 L522.36,452.42 L522.77,452.32 L523.18,452.21 L523.59,452.11 L524.00,452.00 L524.41,451.89 L524.83,451.78 L525.24,451.66 L525.65,451.54 L526.06,451.42 L526.47,451.30 L526.88,451.18 L527.30,451.04 L527.71,450.90 L528.12,450.75 L528.53,450.61 L528.94,450.46 L529.35,450.31 L529.77,450.16 L530.18,450.01 L530.59,449.85 L531.00,449.70 L531.41,449.54 L531.82,449.38 L532.24,449.22 L532.65,449.06 L533.06,448.90 L533.47,448.69 L533.88,448.49 L534.29,448.29 L534.71,448.08 L535.12,447.87 L535.53,447.67 L535.94,447.46 L536.35,447.25 L536.76,447.04 L537.18,446.83 L537.59,446.62 L538.00,446.41" fill="none" stroke="#1fe0e0" stroke-width="1.6" stroke-linejoin="round" />
<text transform="translate(304.44,281.40) scale(0.9736,1)" font-size="21.90" font-weight="bold" fill="#000">(d)</text>
<text transform="translate(357.80,438.50) scale(0.7953,1)" font-size="15.00" font-weight="bold" fill="#1a1a8e">C=O</text>
<text transform="translate(437.81,380.90) scale(0.8363,1)" font-size="14.00" font-weight="bold" fill="#1a1a8e">C 1s</text>
<rect x="290.90" y="260.30" width="247.60" height="215.30" fill="none" stroke="#000" stroke-width="1.5"/>
<line x1="290.90" y1="475.60" x2="290.90" y2="479.60" stroke="#000" stroke-width="1.3" />
<text transform="translate(282.66,492.90) scale(0.8293,1)" font-size="13.20" font-weight="bold" fill="#000">288</text>
<line x1="315.66" y1="475.60" x2="315.66" y2="477.80" stroke="#000" stroke-width="1.3" />
<line x1="340.42" y1="475.60" x2="340.42" y2="479.60" stroke="#000" stroke-width="1.3" />
<text transform="translate(332.19,492.90) scale(0.8236,1)" font-size="13.20" font-weight="bold" fill="#000">287</text>
<line x1="365.18" y1="475.60" x2="365.18" y2="477.80" stroke="#000" stroke-width="1.3" />
<line x1="389.94" y1="475.60" x2="389.94" y2="479.60" stroke="#000" stroke-width="1.3" />
<text transform="translate(381.70,492.90) scale(0.8264,1)" font-size="13.20" font-weight="bold" fill="#000">286</text>
<line x1="414.70" y1="475.60" x2="414.70" y2="477.80" stroke="#000" stroke-width="1.3" />
<line x1="439.46" y1="475.60" x2="439.46" y2="479.60" stroke="#000" stroke-width="1.3" />
<text transform="translate(431.22,492.90) scale(0.8293,1)" font-size="13.20" font-weight="bold" fill="#000">285</text>
<line x1="464.22" y1="475.60" x2="464.22" y2="477.80" stroke="#000" stroke-width="1.3" />
<line x1="488.98" y1="475.60" x2="488.98" y2="479.60" stroke="#000" stroke-width="1.3" />
<text transform="translate(480.75,492.90) scale(0.8207,1)" font-size="13.20" font-weight="bold" fill="#000">284</text>
<line x1="513.74" y1="475.60" x2="513.74" y2="477.80" stroke="#000" stroke-width="1.3" />
<line x1="538.50" y1="475.60" x2="538.50" y2="479.60" stroke="#000" stroke-width="1.3" />
<text transform="translate(530.26,492.90) scale(0.8293,1)" font-size="13.20" font-weight="bold" fill="#000">283</text>
<text transform="translate(367.72,509.60) scale(0.8715,1)" font-size="13.60" font-weight="bold" fill="#000">Binding Energy (eV)</text>
<text transform="translate(283.60,430.69) rotate(-90) scale(1.1194,1)" font-size="12.50" font-weight="bold" fill="#000">Intensity (arb.unit)</text>
</svg>
</body></html>
